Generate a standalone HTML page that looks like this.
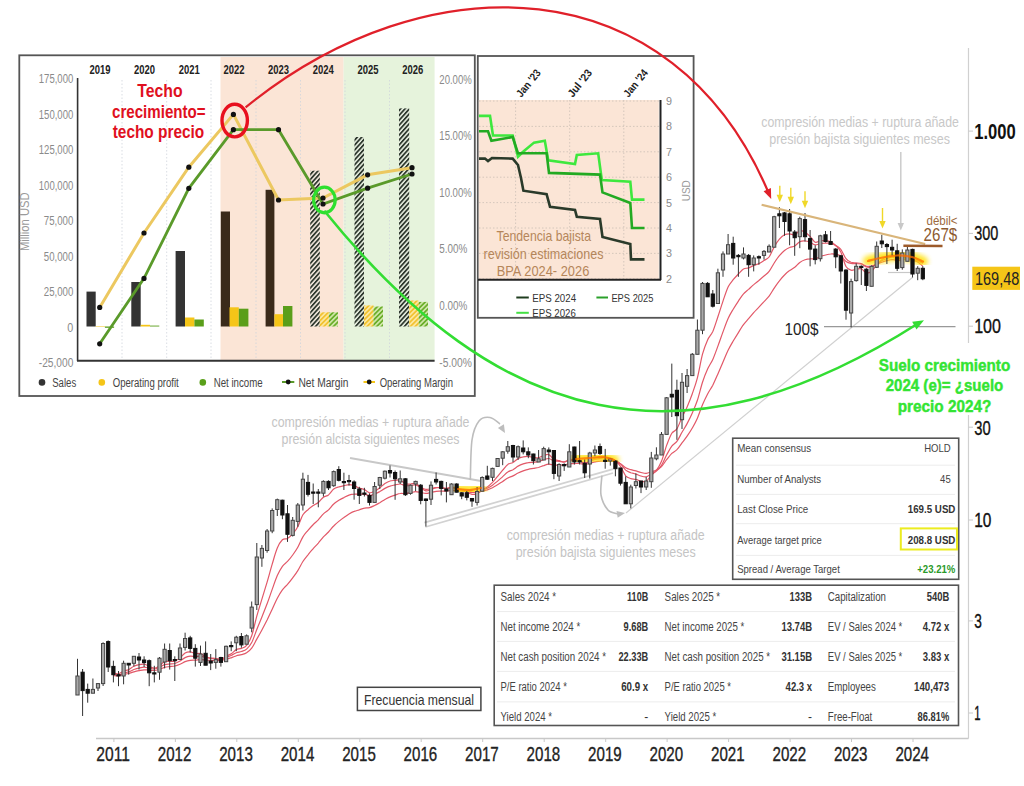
<!DOCTYPE html><html><head><meta charset="utf-8"><style>html,body{margin:0;padding:0;background:#fff;overflow:hidden}svg{display:block} text{font-family:"Liberation Sans", sans-serif}</style></head><body>
<svg width="1024" height="786" viewBox="0 0 1024 786">
<defs><filter id="glow" x="-50%" y="-50%" width="200%" height="200%"><feGaussianBlur stdDeviation="2.5"/></filter><pattern id="hatch" patternUnits="userSpaceOnUse" width="3.3" height="3.3" patternTransform="rotate(42)"><rect width="3.3" height="3.3" fill="#f4f6f0" opacity="0.5"/><rect width="1.8" height="3.3" fill="#2e382e"/></pattern><pattern id="hatchY" patternUnits="userSpaceOnUse" width="3.4" height="3.4" patternTransform="rotate(45)"><rect width="3.4" height="3.4" fill="#fbe7a0"/><rect width="1.7" height="3.4" fill="#f2c230"/></pattern><pattern id="hatchG" patternUnits="userSpaceOnUse" width="3.4" height="3.4" patternTransform="rotate(45)"><rect width="3.4" height="3.4" fill="#cfe6a8"/><rect width="1.7" height="3.4" fill="#6aae2a"/></pattern></defs>
<rect width="1024" height="786" fill="#fff"/>
<line x1="968.5" y1="48" x2="968.5" y2="738.5" stroke="#d0d0d0" stroke-width="1.2"/>
<line x1="96" y1="738.5" x2="968.5" y2="738.5" stroke="#c8c8c8" stroke-width="1.5"/>
<line x1="113.9" y1="738.5" x2="113.9" y2="742" stroke="#c8c8c8" stroke-width="1"/>
<text x="113.1" y="760.6" font-size="20.8" fill="#222" text-anchor="middle" font-weight="normal" textLength="33.6" lengthAdjust="spacingAndGlyphs" stroke="#222" stroke-width="0.35">2011</text>
<line x1="175.4" y1="738.5" x2="175.4" y2="742" stroke="#c8c8c8" stroke-width="1"/>
<text x="174.6" y="760.6" font-size="20.8" fill="#222" text-anchor="middle" font-weight="normal" textLength="33.6" lengthAdjust="spacingAndGlyphs" stroke="#222" stroke-width="0.35">2012</text>
<line x1="236.8" y1="738.5" x2="236.8" y2="742" stroke="#c8c8c8" stroke-width="1"/>
<text x="236.0" y="760.6" font-size="20.8" fill="#222" text-anchor="middle" font-weight="normal" textLength="33.6" lengthAdjust="spacingAndGlyphs" stroke="#222" stroke-width="0.35">2013</text>
<line x1="298.3" y1="738.5" x2="298.3" y2="742" stroke="#c8c8c8" stroke-width="1"/>
<text x="297.5" y="760.6" font-size="20.8" fill="#222" text-anchor="middle" font-weight="normal" textLength="33.6" lengthAdjust="spacingAndGlyphs" stroke="#222" stroke-width="0.35">2014</text>
<line x1="359.8" y1="738.5" x2="359.8" y2="742" stroke="#c8c8c8" stroke-width="1"/>
<text x="359.0" y="760.6" font-size="20.8" fill="#222" text-anchor="middle" font-weight="normal" textLength="33.6" lengthAdjust="spacingAndGlyphs" stroke="#222" stroke-width="0.35">2015</text>
<line x1="421.2" y1="738.5" x2="421.2" y2="742" stroke="#c8c8c8" stroke-width="1"/>
<text x="420.4" y="760.6" font-size="20.8" fill="#222" text-anchor="middle" font-weight="normal" textLength="33.6" lengthAdjust="spacingAndGlyphs" stroke="#222" stroke-width="0.35">2016</text>
<line x1="482.7" y1="738.5" x2="482.7" y2="742" stroke="#c8c8c8" stroke-width="1"/>
<text x="481.9" y="760.6" font-size="20.8" fill="#222" text-anchor="middle" font-weight="normal" textLength="33.6" lengthAdjust="spacingAndGlyphs" stroke="#222" stroke-width="0.35">2017</text>
<line x1="544.2" y1="738.5" x2="544.2" y2="742" stroke="#c8c8c8" stroke-width="1"/>
<text x="543.4" y="760.6" font-size="20.8" fill="#222" text-anchor="middle" font-weight="normal" textLength="33.6" lengthAdjust="spacingAndGlyphs" stroke="#222" stroke-width="0.35">2018</text>
<line x1="605.7" y1="738.5" x2="605.7" y2="742" stroke="#c8c8c8" stroke-width="1"/>
<text x="604.9" y="760.6" font-size="20.8" fill="#222" text-anchor="middle" font-weight="normal" textLength="33.6" lengthAdjust="spacingAndGlyphs" stroke="#222" stroke-width="0.35">2019</text>
<line x1="667.1" y1="738.5" x2="667.1" y2="742" stroke="#c8c8c8" stroke-width="1"/>
<text x="666.3" y="760.6" font-size="20.8" fill="#222" text-anchor="middle" font-weight="normal" textLength="33.6" lengthAdjust="spacingAndGlyphs" stroke="#222" stroke-width="0.35">2020</text>
<line x1="728.6" y1="738.5" x2="728.6" y2="742" stroke="#c8c8c8" stroke-width="1"/>
<text x="727.8" y="760.6" font-size="20.8" fill="#222" text-anchor="middle" font-weight="normal" textLength="33.6" lengthAdjust="spacingAndGlyphs" stroke="#222" stroke-width="0.35">2021</text>
<line x1="790.1" y1="738.5" x2="790.1" y2="742" stroke="#c8c8c8" stroke-width="1"/>
<text x="789.3" y="760.6" font-size="20.8" fill="#222" text-anchor="middle" font-weight="normal" textLength="33.6" lengthAdjust="spacingAndGlyphs" stroke="#222" stroke-width="0.35">2022</text>
<line x1="851.5" y1="738.5" x2="851.5" y2="742" stroke="#c8c8c8" stroke-width="1"/>
<text x="850.7" y="760.6" font-size="20.8" fill="#222" text-anchor="middle" font-weight="normal" textLength="33.6" lengthAdjust="spacingAndGlyphs" stroke="#222" stroke-width="0.35">2023</text>
<line x1="913.0" y1="738.5" x2="913.0" y2="742" stroke="#c8c8c8" stroke-width="1"/>
<text x="912.2" y="760.6" font-size="20.8" fill="#222" text-anchor="middle" font-weight="normal" textLength="33.6" lengthAdjust="spacingAndGlyphs" stroke="#222" stroke-width="0.35">2024</text>
<line x1="968.5" y1="131.1" x2="973" y2="131.1" stroke="#c8c8c8" stroke-width="1"/>
<text x="974.2" y="138.6" font-size="21.4" fill="#111" text-anchor="start" font-weight="bold" textLength="41.5" lengthAdjust="spacingAndGlyphs" >1.000</text>
<line x1="968.5" y1="233.4" x2="973" y2="233.4" stroke="#c8c8c8" stroke-width="1"/>
<text x="974.2" y="240.2" font-size="19.6" fill="#111" text-anchor="start" font-weight="normal" textLength="24.1" lengthAdjust="spacingAndGlyphs" stroke="#111" stroke-width="0.35">300</text>
<line x1="968.5" y1="326.2" x2="973" y2="326.2" stroke="#c8c8c8" stroke-width="1"/>
<text x="974.2" y="333.4" font-size="20.7" fill="#111" text-anchor="start" font-weight="normal" textLength="26.8" lengthAdjust="spacingAndGlyphs" stroke="#111" stroke-width="0.35">100</text>
<line x1="968.5" y1="427.2" x2="973" y2="427.2" stroke="#c8c8c8" stroke-width="1"/>
<text x="974.2" y="434.6" font-size="21.1" fill="#111" text-anchor="start" font-weight="normal" textLength="16.4" lengthAdjust="spacingAndGlyphs" stroke="#111" stroke-width="0.35">30</text>
<line x1="968.5" y1="520" x2="973" y2="520" stroke="#c8c8c8" stroke-width="1"/>
<text x="974.2" y="527.0" font-size="20.1" fill="#111" text-anchor="start" font-weight="normal" textLength="17.2" lengthAdjust="spacingAndGlyphs" stroke="#111" stroke-width="0.35">10</text>
<line x1="968.5" y1="620.9" x2="973" y2="620.9" stroke="#c8c8c8" stroke-width="1"/>
<text x="974.2" y="627.9" font-size="20.1" fill="#111" text-anchor="start" font-weight="normal" textLength="7.6" lengthAdjust="spacingAndGlyphs" stroke="#111" stroke-width="0.35">3</text>
<line x1="968.5" y1="713" x2="973" y2="713" stroke="#c8c8c8" stroke-width="1"/>
<text x="974.2" y="720.2" font-size="20.7" fill="#111" text-anchor="start" font-weight="normal" textLength="6.3" lengthAdjust="spacingAndGlyphs" stroke="#111" stroke-width="0.35">1</text>
<rect x="972.3" y="266.7" width="47.7" height="23.2" fill="#f5c518"/>
<text x="975" y="284.6" font-size="17.6" fill="#222" text-anchor="start" font-weight="normal" textLength="44.3" lengthAdjust="spacingAndGlyphs" >169,48</text>
<line x1="350" y1="458" x2="481" y2="481" stroke="#c8c8c8" stroke-width="2"/>
<line x1="424.3" y1="522.6" x2="613" y2="469.2" stroke="#d2d2d2" stroke-width="1.8"/>
<line x1="425.4" y1="527" x2="613" y2="473" stroke="#d2d2d2" stroke-width="1.8"/>
<line x1="626" y1="513" x2="913" y2="277" stroke="#d0d0d0" stroke-width="1.2"/>
<line x1="888" y1="272.5" x2="913" y2="272.5" stroke="#c8c8c8" stroke-width="1.2"/>
<line x1="824" y1="326.7" x2="955.5" y2="326.7" stroke="#999" stroke-width="1.3"/>
<path d="M113.4,672.9 C114.2,673.1 116.8,674.0 118.5,673.7 C120.2,673.4 121.9,671.8 123.6,671.1 C125.3,670.4 127.0,670.4 128.7,669.6 C130.4,668.8 132.1,667.1 133.9,666.3 C135.6,665.4 137.3,665.0 139.0,664.7 C140.7,664.3 142.4,663.9 144.1,664.2 C145.8,664.4 147.5,665.6 149.2,666.3 C150.9,667.0 152.6,668.3 154.3,668.2 C156.1,668.1 157.8,666.8 159.5,665.7 C161.2,664.6 162.9,662.3 164.6,661.6 C166.3,660.9 168.0,661.5 169.7,661.4 C171.4,661.3 173.1,661.8 174.8,661.2 C176.5,660.6 178.3,659.3 180.0,657.9 C181.7,656.6 183.4,654.1 185.1,653.1 C186.8,652.1 188.5,651.8 190.2,651.9 C191.9,652.0 193.6,653.2 195.3,653.5 C197.0,653.8 198.7,653.1 200.5,653.6 C202.2,654.1 203.9,655.7 205.6,656.5 C207.3,657.3 209.0,657.8 210.7,658.1 C212.4,658.5 214.1,658.3 215.8,658.5 C217.5,658.7 219.2,659.9 220.9,659.5 C222.7,659.1 224.4,657.1 226.1,656.2 C227.8,655.2 229.5,654.9 231.2,653.8 C232.9,652.7 234.6,650.5 236.3,649.6 C238.0,648.7 239.7,649.2 241.4,648.4 C243.1,647.7 244.9,647.4 246.6,645.3 C248.3,643.2 250.0,640.6 251.7,635.7 C253.4,630.9 255.1,622.2 256.8,616.1 C258.5,610.0 260.2,604.8 261.9,599.1 C263.6,593.5 265.3,587.9 267.1,582.1 C268.8,576.3 270.5,569.9 272.2,564.2 C273.9,558.5 275.6,552.1 277.3,548.1 C279.0,544.0 280.7,541.4 282.4,539.8 C284.1,538.2 285.8,539.4 287.5,538.4 C289.3,537.4 291.0,535.9 292.7,533.9 C294.4,531.9 296.1,529.9 297.8,526.7 C299.5,523.5 301.2,517.6 302.9,514.8 C304.6,512.0 306.3,511.2 308.0,509.7 C309.7,508.1 311.5,506.8 313.2,505.6 C314.9,504.4 316.6,503.9 318.3,502.5 C320.0,501.1 321.7,498.5 323.4,497.2 C325.1,495.9 326.8,496.2 328.5,494.9 C330.2,493.5 331.9,490.4 333.7,489.0 C335.4,487.7 337.1,487.4 338.8,486.9 C340.5,486.3 342.2,486.1 343.9,485.7 C345.6,485.4 347.3,484.7 349.0,484.7 C350.7,484.7 352.4,485.1 354.1,485.6 C355.8,486.2 357.6,487.4 359.3,488.1 C361.0,488.7 362.7,488.8 364.4,489.6 C366.1,490.3 367.8,492.5 369.5,492.8 C371.2,493.0 372.9,492.0 374.6,491.2 C376.3,490.4 378.0,489.0 379.8,487.8 C381.5,486.5 383.2,484.8 384.9,483.6 C386.6,482.5 388.3,481.5 390.0,481.0 C391.7,480.4 393.4,480.6 395.1,480.4 C396.8,480.3 398.5,479.5 400.2,480.0 C402.0,480.6 403.7,483.0 405.4,483.7 C407.1,484.4 408.8,484.1 410.5,484.1 C412.2,484.0 413.9,482.8 415.6,483.4 C417.3,484.0 419.0,486.4 420.7,487.7 C422.4,488.9 424.2,490.6 425.9,490.9 C427.6,491.2 429.3,490.0 431.0,489.4 C432.7,488.9 434.4,487.9 436.1,487.6 C437.8,487.3 439.5,487.6 441.2,487.8 C442.9,488.0 444.6,488.6 446.4,488.6 C448.1,488.5 449.8,487.4 451.5,487.4 C453.2,487.5 454.9,488.1 456.6,488.6 C458.3,489.1 460.0,489.9 461.7,490.5 C463.4,491.1 465.1,491.5 466.8,492.2 C468.6,492.8 470.3,494.1 472.0,494.4 C473.7,494.6 475.4,494.5 477.1,493.7 C478.8,492.9 480.5,490.7 482.2,489.6 C483.9,488.5 485.6,488.2 487.3,487.0 C489.0,485.8 490.8,484.1 492.5,482.4 C494.2,480.6 495.9,478.4 497.6,476.4 C499.3,474.4 501.0,472.3 502.7,470.2 C504.4,468.2 506.1,465.6 507.8,464.4 C509.5,463.1 511.2,463.5 513.0,462.5 C514.7,461.6 516.4,459.5 518.1,458.6 C519.8,457.6 521.5,457.2 523.2,456.9 C524.9,456.5 526.6,456.3 528.3,456.4 C530.0,456.5 531.7,457.2 533.4,457.5 C535.2,457.7 536.9,458.1 538.6,457.8 C540.3,457.5 542.0,456.0 543.7,455.5 C545.4,455.0 547.1,454.0 548.8,454.6 C550.5,455.2 552.2,458.3 553.9,459.3 C555.6,460.3 557.4,460.2 559.1,460.6 C560.8,461.0 562.5,462.1 564.2,461.9 C565.9,461.7 567.6,459.7 569.3,459.4 C571.0,459.1 572.7,459.8 574.4,460.0 C576.1,460.2 577.8,459.9 579.6,460.5 C581.3,461.1 583.0,463.5 584.7,463.6 C586.4,463.7 588.1,461.8 589.8,460.9 C591.5,460.0 593.2,458.9 594.9,458.2 C596.6,457.6 598.3,457.0 600.0,457.0 C601.8,457.0 603.5,457.8 605.2,458.0 C606.9,458.2 608.6,457.7 610.3,458.2 C612.0,458.7 613.7,459.5 615.4,460.8 C617.1,462.2 618.8,463.9 620.5,466.4 C622.2,468.9 624.0,473.7 625.7,475.8 C627.4,477.8 629.1,478.0 630.8,478.6 C632.5,479.2 634.2,478.9 635.9,479.4 C637.6,479.8 639.3,481.0 641.0,481.3 C642.7,481.6 644.4,482.2 646.2,481.2 C647.9,480.2 649.6,477.2 651.3,475.4 C653.0,473.6 654.7,472.6 656.4,470.3 C658.1,468.0 659.8,465.5 661.5,461.3 C663.2,457.2 664.9,450.1 666.6,445.4 C668.4,440.8 670.1,436.1 671.8,433.3 C673.5,430.6 675.2,431.6 676.9,428.9 C678.6,426.2 680.3,420.9 682.0,417.3 C683.7,413.6 685.4,410.8 687.1,406.9 C688.8,402.9 690.6,398.5 692.3,393.7 C694.0,388.9 695.7,384.4 697.4,377.8 C699.1,371.3 700.8,360.6 702.5,354.2 C704.2,347.9 705.9,343.7 707.6,339.9 C709.3,336.1 711.0,335.3 712.8,331.5 C714.5,327.6 716.2,321.8 717.9,316.8 C719.6,311.7 721.3,306.1 723.0,301.1 C724.7,296.1 726.4,290.6 728.1,287.0 C729.8,283.4 731.5,281.9 733.2,279.7 C735.0,277.6 736.7,275.8 738.4,274.0 C740.1,272.2 741.8,270.0 743.5,269.0 C745.2,268.0 746.9,268.5 748.6,267.9 C750.3,267.3 752.0,266.2 753.7,265.4 C755.4,264.7 757.2,264.4 758.9,263.6 C760.6,262.8 762.3,261.6 764.0,260.5 C765.7,259.4 767.4,259.2 769.1,257.0 C770.8,254.7 772.5,249.9 774.2,246.9 C775.9,243.9 777.6,241.2 779.4,239.1 C781.1,237.1 782.8,235.6 784.5,234.7 C786.2,233.8 787.9,233.8 789.6,233.8 C791.3,233.8 793.0,235.3 794.7,234.8 C796.4,234.3 798.1,231.2 799.8,230.7 C801.6,230.3 803.3,231.3 805.0,232.2 C806.7,233.2 808.4,234.8 810.1,236.4 C811.8,238.1 813.5,241.5 815.2,242.2 C816.9,242.9 818.6,240.9 820.3,240.6 C822.0,240.4 823.8,240.7 825.5,240.8 C827.2,241.0 828.9,241.0 830.6,241.7 C832.3,242.5 834.0,243.8 835.7,245.5 C837.4,247.2 839.1,248.4 840.8,251.9 C842.5,255.4 844.2,263.4 846.0,266.5 C847.7,269.5 849.4,269.8 851.1,270.2 C852.8,270.7 854.5,269.5 856.2,269.3 C857.9,269.0 859.6,268.2 861.3,268.8 C863.0,269.4 864.7,272.5 866.4,272.9 C868.1,273.3 869.9,272.6 871.6,271.3 C873.3,270.0 875.0,267.0 876.7,265.0 C878.4,263.1 880.1,261.2 881.8,259.7 C883.5,258.3 885.2,257.3 886.9,256.4 C888.6,255.6 890.3,254.5 892.1,254.8 C893.8,255.1 895.5,257.9 897.2,258.2 C898.9,258.5 900.6,257.4 902.3,256.9 C904.0,256.4 905.7,254.7 907.4,255.2 C909.1,255.7 910.8,258.7 912.5,259.9 C914.3,261.0 916.0,260.9 917.7,262.0 C919.4,263.0 921.9,265.5 922.8,266.2" fill="none" stroke="#e25868" stroke-width="1.2"/>
<path d="M113.4,674.8 C114.2,674.8 116.8,675.2 118.5,675.0 C120.2,674.7 121.9,673.7 123.6,673.2 C125.3,672.7 127.0,672.5 128.7,671.9 C130.4,671.3 132.1,670.2 133.9,669.5 C135.6,668.9 137.3,668.4 139.0,668.1 C140.7,667.7 142.4,667.2 144.1,667.2 C145.8,667.2 147.5,667.8 149.2,668.1 C150.9,668.4 152.6,669.1 154.3,669.0 C156.1,668.9 157.8,668.1 159.5,667.3 C161.2,666.6 162.9,665.1 164.6,664.6 C166.3,664.0 168.0,664.1 169.7,664.0 C171.4,663.8 173.1,663.9 174.8,663.5 C176.5,663.0 178.3,662.1 180.0,661.1 C181.7,660.1 183.4,658.4 185.1,657.6 C186.8,656.8 188.5,656.4 190.2,656.2 C191.9,656.0 193.6,656.5 195.3,656.5 C197.0,656.5 198.7,655.9 200.5,656.1 C202.2,656.3 203.9,657.1 205.6,657.5 C207.3,657.9 209.0,658.2 210.7,658.4 C212.4,658.5 214.1,658.4 215.8,658.5 C217.5,658.7 219.2,659.4 220.9,659.1 C222.7,658.9 224.4,657.8 226.1,657.2 C227.8,656.6 229.5,656.3 231.2,655.5 C232.9,654.8 234.6,653.4 236.3,652.7 C238.0,652.0 239.7,652.1 241.4,651.5 C243.1,650.9 244.9,650.6 246.6,649.1 C248.3,647.6 250.0,645.9 251.7,642.6 C253.4,639.4 255.1,633.7 256.8,629.5 C258.5,625.2 260.2,621.3 261.9,617.0 C263.6,612.7 265.3,608.4 267.1,603.8 C268.8,599.2 270.5,594.1 272.2,589.4 C273.9,584.7 275.6,579.5 277.3,575.6 C279.0,571.8 280.7,568.7 282.4,566.3 C284.1,563.9 285.8,563.2 287.5,561.4 C289.3,559.5 291.0,557.4 292.7,555.0 C294.4,552.7 296.1,550.4 297.8,547.3 C299.5,544.3 301.2,539.7 302.9,536.9 C304.6,534.0 306.3,532.4 308.0,530.3 C309.7,528.3 311.5,526.4 313.2,524.6 C314.9,522.8 316.6,521.6 318.3,519.8 C320.0,518.0 321.7,515.5 323.4,513.9 C325.1,512.2 326.8,511.5 328.5,509.9 C330.2,508.2 331.9,505.6 333.7,504.0 C335.4,502.4 337.1,501.4 338.8,500.3 C340.5,499.3 342.2,498.4 343.9,497.6 C345.6,496.7 347.3,495.7 349.0,495.1 C350.7,494.5 352.4,494.2 354.1,494.1 C355.8,493.9 357.6,494.3 359.3,494.3 C361.0,494.3 362.7,494.0 364.4,494.2 C366.1,494.4 367.8,495.5 369.5,495.5 C371.2,495.5 372.9,494.8 374.6,494.1 C376.3,493.5 378.0,492.5 379.8,491.6 C381.5,490.6 383.2,489.3 384.9,488.4 C386.6,487.5 388.3,486.6 390.0,486.1 C391.7,485.5 393.4,485.3 395.1,484.9 C396.8,484.6 398.5,483.9 400.2,484.0 C402.0,484.1 403.7,485.4 405.4,485.6 C407.1,485.9 408.8,485.7 410.5,485.6 C412.2,485.5 413.9,484.6 415.6,484.9 C417.3,485.2 419.0,486.6 420.7,487.3 C422.4,488.0 424.2,489.1 425.9,489.3 C427.6,489.6 429.3,489.0 431.0,488.7 C432.7,488.4 434.4,487.8 436.1,487.7 C437.8,487.5 439.5,487.7 441.2,487.8 C442.9,487.9 444.6,488.3 446.4,488.3 C448.1,488.3 449.8,487.6 451.5,487.6 C453.2,487.6 454.9,488.0 456.6,488.3 C458.3,488.6 460.0,489.1 461.7,489.5 C463.4,489.9 465.1,490.2 466.8,490.7 C468.6,491.2 470.3,492.0 472.0,492.3 C473.7,492.5 475.4,492.6 477.1,492.2 C478.8,491.8 480.5,490.6 482.2,489.9 C483.9,489.3 485.6,489.0 487.3,488.3 C489.0,487.5 490.8,486.4 492.5,485.2 C494.2,484.0 495.9,482.5 497.6,481.1 C499.3,479.7 501.0,478.1 502.7,476.6 C504.4,475.1 506.1,473.1 507.8,472.0 C509.5,470.8 511.2,470.7 513.0,469.7 C514.7,468.7 516.4,467.1 518.1,466.1 C519.8,465.2 521.5,464.5 523.2,463.9 C524.9,463.3 526.6,462.8 528.3,462.6 C530.0,462.3 531.7,462.4 533.4,462.3 C535.2,462.1 536.9,462.2 538.6,461.7 C540.3,461.3 542.0,460.3 543.7,459.7 C545.4,459.2 547.1,458.3 548.8,458.5 C550.5,458.7 552.2,460.3 553.9,460.8 C555.6,461.3 557.4,461.2 559.1,461.4 C560.8,461.6 562.5,462.2 564.2,462.0 C565.9,461.9 567.6,460.7 569.3,460.5 C571.0,460.2 572.7,460.6 574.4,460.7 C576.1,460.8 577.8,460.6 579.6,460.9 C581.3,461.2 583.0,462.7 584.7,462.7 C586.4,462.8 588.1,461.8 589.8,461.2 C591.5,460.7 593.2,460.0 594.9,459.5 C596.6,459.1 598.3,458.7 600.0,458.6 C601.8,458.5 603.5,458.9 605.2,458.9 C606.9,459.0 608.6,458.7 610.3,458.9 C612.0,459.2 613.7,459.6 615.4,460.4 C617.1,461.3 618.8,462.3 620.5,463.9 C622.2,465.5 624.0,468.6 625.7,470.1 C627.4,471.5 629.1,472.0 630.8,472.7 C632.5,473.3 634.2,473.5 635.9,474.1 C637.6,474.6 639.3,475.6 641.0,476.0 C642.7,476.5 644.4,477.2 646.2,476.8 C647.9,476.5 649.6,474.9 651.3,473.9 C653.0,472.9 654.7,472.4 656.4,471.0 C658.1,469.6 659.8,468.0 661.5,465.4 C663.2,462.7 664.9,458.2 666.6,455.0 C668.4,451.8 670.1,448.3 671.8,446.1 C673.5,443.8 675.2,443.7 676.9,441.4 C678.6,439.1 680.3,435.3 682.0,432.3 C683.7,429.3 685.4,426.8 687.1,423.6 C688.8,420.3 690.6,416.8 692.3,412.9 C694.0,409.0 695.7,405.3 697.4,400.2 C699.1,395.1 700.8,387.4 702.5,382.2 C704.2,377.0 705.9,372.9 707.6,369.1 C709.3,365.3 711.0,363.2 712.8,359.4 C714.5,355.6 716.2,350.7 717.9,346.1 C719.6,341.5 721.3,336.5 723.0,331.9 C724.7,327.3 726.4,322.3 728.1,318.5 C729.8,314.7 731.5,312.1 733.2,309.2 C735.0,306.3 736.7,303.7 738.4,301.1 C740.1,298.6 741.8,295.8 743.5,293.9 C745.2,291.9 746.9,290.9 748.6,289.4 C750.3,287.8 752.0,286.0 753.7,284.6 C755.4,283.1 757.2,281.9 758.9,280.5 C760.6,279.0 762.3,277.5 764.0,276.0 C765.7,274.5 767.4,273.6 769.1,271.4 C770.8,269.3 772.5,265.6 774.2,263.0 C775.9,260.4 777.6,257.8 779.4,255.7 C781.1,253.7 782.8,251.9 784.5,250.5 C786.2,249.1 787.9,248.2 789.6,247.5 C791.3,246.7 793.0,246.9 794.7,246.0 C796.4,245.0 798.1,242.6 799.8,241.8 C801.6,240.9 803.3,240.9 805.0,241.0 C806.7,241.1 808.4,241.6 810.1,242.2 C811.8,242.9 813.5,244.7 815.2,244.9 C816.9,245.1 818.6,243.8 820.3,243.5 C822.0,243.2 823.8,243.2 825.5,243.2 C827.2,243.2 828.9,243.0 830.6,243.4 C832.3,243.8 834.0,244.4 835.7,245.4 C837.4,246.4 839.1,247.2 840.8,249.4 C842.5,251.6 844.2,256.6 846.0,258.7 C847.7,260.9 849.4,261.6 851.1,262.3 C852.8,262.9 854.5,262.7 856.2,262.9 C857.9,263.1 859.6,262.9 861.3,263.6 C863.0,264.2 864.7,266.4 866.4,266.9 C868.1,267.5 869.9,267.4 871.6,266.8 C873.3,266.3 875.0,264.7 876.7,263.7 C878.4,262.6 880.1,261.5 881.8,260.6 C883.5,259.7 885.2,259.0 886.9,258.5 C888.6,257.9 890.3,257.1 892.1,257.2 C893.8,257.2 895.5,258.7 897.2,258.9 C898.9,259.0 900.6,258.3 902.3,258.0 C904.0,257.6 905.7,256.5 907.4,256.7 C909.1,257.0 910.8,258.7 912.5,259.4 C914.3,260.1 916.0,260.1 917.7,260.8 C919.4,261.5 921.9,263.1 922.8,263.5" fill="none" stroke="#e25868" stroke-width="1.2"/>
<path d="M113.4,675.7 C114.2,675.7 116.8,675.9 118.5,675.7 C120.2,675.5 121.9,674.8 123.6,674.4 C125.3,674.1 127.0,673.9 128.7,673.5 C130.4,673.1 132.1,672.3 133.9,671.8 C135.6,671.3 137.3,670.9 139.0,670.6 C140.7,670.3 142.4,669.9 144.1,669.8 C145.8,669.7 147.5,670.0 149.2,670.1 C150.9,670.2 152.6,670.6 154.3,670.5 C156.1,670.4 157.8,669.8 159.5,669.3 C161.2,668.7 162.9,667.7 164.6,667.3 C166.3,666.8 168.0,666.8 169.7,666.6 C171.4,666.4 173.1,666.4 174.8,666.0 C176.5,665.6 178.3,664.9 180.0,664.2 C181.7,663.5 183.4,662.3 185.1,661.6 C186.8,661.0 188.5,660.6 190.2,660.3 C191.9,660.1 193.6,660.2 195.3,660.1 C197.0,660.0 198.7,659.5 200.5,659.5 C202.2,659.5 203.9,659.9 205.6,660.1 C207.3,660.2 209.0,660.3 210.7,660.4 C212.4,660.4 214.1,660.3 215.8,660.3 C217.5,660.3 219.2,660.7 220.9,660.5 C222.7,660.3 224.4,659.5 226.1,659.1 C227.8,658.6 229.5,658.4 231.2,657.8 C232.9,657.3 234.6,656.3 236.3,655.8 C238.0,655.2 239.7,655.2 241.4,654.7 C243.1,654.2 244.9,653.9 246.6,652.8 C248.3,651.7 250.0,650.5 251.7,648.2 C253.4,645.9 255.1,642.1 256.8,639.1 C258.5,636.1 260.2,633.2 261.9,630.0 C263.6,626.9 265.3,623.6 267.1,620.1 C268.8,616.6 270.5,612.8 272.2,609.2 C273.9,605.5 275.6,601.4 277.3,598.2 C279.0,595.0 280.7,592.2 282.4,589.9 C284.1,587.6 285.8,586.3 287.5,584.3 C289.3,582.3 291.0,580.2 292.7,577.9 C294.4,575.6 296.1,573.4 297.8,570.6 C299.5,567.9 301.2,564.1 302.9,561.5 C304.6,558.8 306.3,556.9 308.0,554.8 C309.7,552.6 311.5,550.6 313.2,548.6 C314.9,546.7 316.6,545.0 318.3,543.1 C320.0,541.1 321.7,538.8 323.4,536.9 C325.1,535.1 326.8,533.8 328.5,532.0 C330.2,530.2 331.9,527.7 333.7,526.0 C335.4,524.2 337.1,522.8 338.8,521.4 C340.5,520.0 342.2,518.7 343.9,517.5 C345.6,516.2 347.3,514.9 349.0,513.9 C350.7,512.9 352.4,512.0 354.1,511.4 C355.8,510.7 357.6,510.3 359.3,509.8 C361.0,509.2 362.7,508.5 364.4,508.2 C366.1,507.8 367.8,508.1 369.5,507.6 C371.2,507.2 372.9,506.3 374.6,505.5 C376.3,504.7 378.0,503.7 379.8,502.7 C381.5,501.7 383.2,500.5 384.9,499.5 C386.6,498.6 388.3,497.6 390.0,496.9 C391.7,496.1 393.4,495.7 395.1,495.1 C396.8,494.5 398.5,493.7 400.2,493.5 C402.0,493.2 403.7,493.7 405.4,493.6 C407.1,493.5 408.8,493.1 410.5,492.7 C412.2,492.4 413.9,491.6 415.6,491.6 C417.3,491.6 419.0,492.2 420.7,492.5 C422.4,492.8 424.2,493.3 425.9,493.3 C427.6,493.3 429.3,492.8 431.0,492.5 C432.7,492.2 434.4,491.7 436.1,491.4 C437.8,491.2 439.5,491.2 441.2,491.1 C442.9,491.1 444.6,491.2 446.4,491.1 C448.1,491.0 449.8,490.5 451.5,490.4 C453.2,490.3 454.9,490.5 456.6,490.6 C458.3,490.7 460.0,490.9 461.7,491.1 C463.4,491.3 465.1,491.5 466.8,491.7 C468.6,492.0 470.3,492.5 472.0,492.7 C473.7,492.8 475.4,492.8 477.1,492.6 C478.8,492.3 480.5,491.5 482.2,491.0 C483.9,490.6 485.6,490.4 487.3,489.9 C489.0,489.3 490.8,488.6 492.5,487.7 C494.2,486.9 495.9,485.8 497.6,484.8 C499.3,483.8 501.0,482.6 502.7,481.5 C504.4,480.4 506.1,478.9 507.8,478.0 C509.5,477.1 511.2,476.8 513.0,475.9 C514.7,475.1 516.4,473.8 518.1,473.0 C519.8,472.2 521.5,471.5 523.2,470.9 C524.9,470.3 526.6,469.7 528.3,469.3 C530.0,468.9 531.7,468.7 533.4,468.4 C535.2,468.1 536.9,467.9 538.6,467.5 C540.3,467.0 542.0,466.1 543.7,465.6 C545.4,465.0 547.1,464.3 548.8,464.2 C550.5,464.1 552.2,465.0 553.9,465.1 C555.6,465.3 557.4,465.1 559.1,465.1 C560.8,465.1 562.5,465.3 564.2,465.1 C565.9,464.9 567.6,464.1 569.3,463.8 C571.0,463.5 572.7,463.7 574.4,463.6 C576.1,463.6 577.8,463.3 579.6,463.5 C581.3,463.6 583.0,464.4 584.7,464.4 C586.4,464.4 588.1,463.7 589.8,463.3 C591.5,462.8 593.2,462.3 594.9,461.9 C596.6,461.6 598.3,461.2 600.0,461.1 C601.8,460.9 603.5,461.1 605.2,461.1 C606.9,461.0 608.6,460.7 610.3,460.8 C612.0,460.9 613.7,461.1 615.4,461.6 C617.1,462.1 618.8,462.8 620.5,463.8 C622.2,464.8 624.0,466.8 625.7,467.8 C627.4,468.8 629.1,469.2 630.8,469.7 C632.5,470.2 634.2,470.4 635.9,470.9 C637.6,471.4 639.3,472.1 641.0,472.5 C642.7,472.9 644.4,473.5 646.2,473.4 C647.9,473.2 649.6,472.4 651.3,471.8 C653.0,471.3 654.7,471.0 656.4,470.1 C658.1,469.3 659.8,468.3 661.5,466.6 C663.2,464.8 664.9,461.9 666.6,459.7 C668.4,457.5 670.1,455.1 671.8,453.4 C673.5,451.8 675.2,451.4 676.9,449.7 C678.6,447.9 680.3,445.2 682.0,442.9 C683.7,440.7 685.4,438.7 687.1,436.2 C688.8,433.7 690.6,431.0 692.3,428.0 C694.0,425.0 695.7,422.1 697.4,418.2 C699.1,414.3 700.8,408.8 702.5,404.7 C704.2,400.7 705.9,397.2 707.6,393.9 C709.3,390.7 711.0,388.5 712.8,385.2 C714.5,381.8 716.2,377.8 717.9,373.9 C719.6,370.1 721.3,365.9 723.0,361.9 C724.7,358.0 726.4,353.7 728.1,350.2 C729.8,346.7 731.5,343.9 733.2,341.0 C735.0,338.1 736.7,335.3 738.4,332.6 C740.1,329.8 741.8,327.0 743.5,324.7 C745.2,322.4 746.9,320.7 748.6,318.7 C750.3,316.7 752.0,314.6 753.7,312.6 C755.4,310.7 757.2,309.0 758.9,307.2 C760.6,305.3 762.3,303.4 764.0,301.6 C765.7,299.7 767.4,298.3 769.1,296.1 C770.8,293.8 772.5,290.7 774.2,288.1 C775.9,285.6 777.6,283.1 779.4,280.9 C781.1,278.7 782.8,276.7 784.5,275.0 C786.2,273.2 787.9,271.8 789.6,270.6 C791.3,269.3 793.0,268.6 794.7,267.3 C796.4,265.9 798.1,263.6 799.8,262.4 C801.6,261.2 803.3,260.4 805.0,259.8 C806.7,259.2 808.4,258.9 810.1,258.8 C811.8,258.6 813.5,259.2 815.2,258.8 C816.9,258.5 818.6,257.2 820.3,256.5 C822.0,255.9 823.8,255.5 825.5,255.0 C827.2,254.6 828.9,254.1 830.6,254.0 C832.3,253.8 834.0,253.9 835.7,254.3 C837.4,254.6 839.1,254.7 840.8,255.9 C842.5,257.1 844.2,260.1 846.0,261.4 C847.7,262.6 849.4,263.0 851.1,263.4 C852.8,263.8 854.5,263.6 856.2,263.7 C857.9,263.8 859.6,263.6 861.3,264.0 C863.0,264.5 864.7,265.8 866.4,266.2 C868.1,266.5 869.9,266.5 871.6,266.2 C873.3,265.9 875.0,264.9 876.7,264.2 C878.4,263.5 880.1,262.8 881.8,262.2 C883.5,261.6 885.2,261.0 886.9,260.6 C888.6,260.2 890.3,259.6 892.1,259.5 C893.8,259.5 895.5,260.4 897.2,260.4 C898.9,260.4 900.6,260.0 902.3,259.7 C904.0,259.4 905.7,258.6 907.4,258.7 C909.1,258.8 910.8,259.8 912.5,260.2 C914.3,260.6 916.0,260.6 917.7,261.0 C919.4,261.5 921.9,262.5 922.8,262.8" fill="none" stroke="#e25868" stroke-width="1.2"/>
<path d="M458.0,489.0 C460.0,489.2 466.2,490.2 470.0,490.0 C473.8,489.8 479.2,488.3 481.0,488.0" fill="none" stroke="#ffe000" stroke-width="10" stroke-linecap="round" filter="url(#glow)" opacity="0.85"/>
<path d="M576.0,459.0 C578.3,458.8 585.3,458.3 590.0,458.0 C594.7,457.7 600.0,456.7 604.0,457.0 C608.0,457.3 612.3,459.5 614.0,460.0" fill="none" stroke="#ffe000" stroke-width="10" stroke-linecap="round" filter="url(#glow)" opacity="0.85"/>
<path d="M868.0,261.0 C870.0,260.5 875.2,258.9 880.0,258.0 C884.8,257.1 891.7,255.7 897.0,255.5 C902.3,255.3 907.7,256.0 912.0,257.0 C916.3,258.0 921.2,260.8 923.0,261.5" fill="none" stroke="#ffe000" stroke-width="10" stroke-linecap="round" filter="url(#glow)" opacity="0.85"/>
<line x1="77.5" y1="658.8" x2="77.5" y2="695.0" stroke="#333" stroke-width="1"/>
<rect x="75.9" y="676.0" width="3.2" height="19.0" fill="#aaa" stroke="#444" stroke-width="1"/>
<line x1="82.6" y1="669.0" x2="82.6" y2="716.0" stroke="#333" stroke-width="1"/>
<rect x="81.0" y="672.2" width="3.2" height="18.4" fill="#111" stroke="#111" stroke-width="1"/>
<line x1="87.7" y1="683.6" x2="87.7" y2="702.7" stroke="#333" stroke-width="1"/>
<rect x="86.1" y="689.4" width="3.2" height="3.8" fill="#111" stroke="#111" stroke-width="1"/>
<line x1="92.9" y1="678.5" x2="92.9" y2="693.2" stroke="#333" stroke-width="1"/>
<rect x="91.3" y="689.4" width="3.2" height="3.8" fill="#aaa" stroke="#444" stroke-width="1"/>
<line x1="98.0" y1="683.0" x2="98.0" y2="691.0" stroke="#333" stroke-width="1"/>
<rect x="96.4" y="683.6" width="3.2" height="4.4" fill="#aaa" stroke="#444" stroke-width="1"/>
<line x1="103.1" y1="642.3" x2="103.1" y2="686.0" stroke="#333" stroke-width="1"/>
<rect x="101.5" y="643.5" width="3.2" height="40.1" fill="#aaa" stroke="#444" stroke-width="1"/>
<line x1="108.2" y1="640.4" x2="108.2" y2="672.0" stroke="#333" stroke-width="1"/>
<rect x="106.6" y="641.6" width="3.2" height="25.4" fill="#111" stroke="#111" stroke-width="1"/>
<line x1="113.4" y1="660.7" x2="113.4" y2="682.4" stroke="#333" stroke-width="1"/>
<rect x="111.8" y="666.4" width="3.2" height="8.3" fill="#111" stroke="#111" stroke-width="1"/>
<line x1="118.5" y1="671.0" x2="118.5" y2="686.2" stroke="#333" stroke-width="1"/>
<rect x="116.9" y="674.7" width="3.2" height="1.3" fill="#111" stroke="#111" stroke-width="1"/>
<line x1="123.6" y1="660.7" x2="123.6" y2="684.3" stroke="#333" stroke-width="1"/>
<rect x="122.0" y="663.3" width="3.2" height="12.7" fill="#aaa" stroke="#444" stroke-width="1"/>
<line x1="128.7" y1="663.3" x2="128.7" y2="674.7" stroke="#333" stroke-width="1"/>
<rect x="127.1" y="663.3" width="3.2" height="1.7" fill="#111" stroke="#111" stroke-width="1"/>
<line x1="133.9" y1="656.3" x2="133.9" y2="666.4" stroke="#333" stroke-width="1"/>
<rect x="132.3" y="656.3" width="3.2" height="7.0" fill="#aaa" stroke="#444" stroke-width="1"/>
<line x1="139.0" y1="653.0" x2="139.0" y2="669.6" stroke="#333" stroke-width="1"/>
<rect x="137.4" y="657.0" width="3.2" height="3.0" fill="#111" stroke="#111" stroke-width="1"/>
<line x1="144.1" y1="656.3" x2="144.1" y2="667.0" stroke="#333" stroke-width="1"/>
<rect x="142.5" y="660.0" width="3.2" height="2.6" fill="#111" stroke="#111" stroke-width="1"/>
<line x1="149.2" y1="659.5" x2="149.2" y2="686.2" stroke="#333" stroke-width="1"/>
<rect x="147.6" y="660.7" width="3.2" height="12.1" fill="#111" stroke="#111" stroke-width="1"/>
<line x1="154.3" y1="665.8" x2="154.3" y2="682.4" stroke="#333" stroke-width="1"/>
<rect x="152.7" y="672.8" width="3.2" height="1.2" fill="#111" stroke="#111" stroke-width="1"/>
<line x1="159.5" y1="657.0" x2="159.5" y2="679.8" stroke="#333" stroke-width="1"/>
<rect x="157.9" y="658.2" width="3.2" height="14.0" fill="#aaa" stroke="#444" stroke-width="1"/>
<line x1="164.6" y1="643.5" x2="164.6" y2="668.4" stroke="#333" stroke-width="1"/>
<rect x="163.0" y="649.3" width="3.2" height="12.7" fill="#aaa" stroke="#444" stroke-width="1"/>
<line x1="169.7" y1="643.5" x2="169.7" y2="669.6" stroke="#333" stroke-width="1"/>
<rect x="168.1" y="650.5" width="3.2" height="10.2" fill="#111" stroke="#111" stroke-width="1"/>
<line x1="174.8" y1="656.3" x2="174.8" y2="681.0" stroke="#333" stroke-width="1"/>
<rect x="173.2" y="659.5" width="3.2" height="1.2" fill="#111" stroke="#111" stroke-width="1"/>
<line x1="180.0" y1="643.5" x2="180.0" y2="659.5" stroke="#333" stroke-width="1"/>
<rect x="178.4" y="648.0" width="3.2" height="11.5" fill="#aaa" stroke="#444" stroke-width="1"/>
<line x1="185.1" y1="632.7" x2="185.1" y2="650.5" stroke="#333" stroke-width="1"/>
<rect x="183.5" y="638.5" width="3.2" height="8.9" fill="#aaa" stroke="#444" stroke-width="1"/>
<line x1="190.2" y1="635.8" x2="190.2" y2="652.6" stroke="#333" stroke-width="1"/>
<rect x="188.6" y="637.9" width="3.2" height="10.5" fill="#111" stroke="#111" stroke-width="1"/>
<line x1="195.3" y1="644.2" x2="195.3" y2="666.6" stroke="#333" stroke-width="1"/>
<rect x="193.7" y="648.4" width="3.2" height="9.8" fill="#111" stroke="#111" stroke-width="1"/>
<line x1="200.5" y1="645.6" x2="200.5" y2="666.0" stroke="#333" stroke-width="1"/>
<rect x="198.9" y="654.0" width="3.2" height="8.4" fill="#aaa" stroke="#444" stroke-width="1"/>
<line x1="205.6" y1="641.4" x2="205.6" y2="665.2" stroke="#333" stroke-width="1"/>
<rect x="204.0" y="653.3" width="3.2" height="11.9" fill="#111" stroke="#111" stroke-width="1"/>
<line x1="210.7" y1="654.0" x2="210.7" y2="670.1" stroke="#333" stroke-width="1"/>
<rect x="209.1" y="661.0" width="3.2" height="2.0" fill="#111" stroke="#111" stroke-width="1"/>
<line x1="215.8" y1="649.1" x2="215.8" y2="668.7" stroke="#333" stroke-width="1"/>
<rect x="214.2" y="659.6" width="3.2" height="2.8" fill="#aaa" stroke="#444" stroke-width="1"/>
<line x1="220.9" y1="656.8" x2="220.9" y2="666.6" stroke="#333" stroke-width="1"/>
<rect x="219.3" y="657.5" width="3.2" height="4.9" fill="#111" stroke="#111" stroke-width="1"/>
<line x1="226.1" y1="645.6" x2="226.1" y2="661.7" stroke="#333" stroke-width="1"/>
<rect x="224.5" y="646.3" width="3.2" height="15.4" fill="#aaa" stroke="#444" stroke-width="1"/>
<line x1="231.2" y1="641.4" x2="231.2" y2="651.2" stroke="#333" stroke-width="1"/>
<rect x="229.6" y="645.5" width="3.2" height="1.2" fill="#111" stroke="#111" stroke-width="1"/>
<line x1="236.3" y1="635.8" x2="236.3" y2="651.2" stroke="#333" stroke-width="1"/>
<rect x="234.7" y="637.2" width="3.2" height="5.6" fill="#aaa" stroke="#444" stroke-width="1"/>
<line x1="241.4" y1="633.0" x2="241.4" y2="647.7" stroke="#333" stroke-width="1"/>
<rect x="239.8" y="636.5" width="3.2" height="8.4" fill="#111" stroke="#111" stroke-width="1"/>
<line x1="246.6" y1="634.4" x2="246.6" y2="644.2" stroke="#333" stroke-width="1"/>
<rect x="245.0" y="635.8" width="3.2" height="8.4" fill="#aaa" stroke="#444" stroke-width="1"/>
<line x1="251.7" y1="601.5" x2="251.7" y2="632.3" stroke="#333" stroke-width="1"/>
<rect x="250.1" y="607.1" width="3.2" height="21.0" fill="#aaa" stroke="#444" stroke-width="1"/>
<line x1="256.8" y1="543.0" x2="256.8" y2="610.0" stroke="#333" stroke-width="1"/>
<rect x="255.2" y="557.0" width="3.2" height="47.6" fill="#aaa" stroke="#444" stroke-width="1"/>
<line x1="261.9" y1="545.0" x2="261.9" y2="566.8" stroke="#333" stroke-width="1"/>
<rect x="260.3" y="548.4" width="3.2" height="9.6" fill="#aaa" stroke="#444" stroke-width="1"/>
<line x1="267.1" y1="529.0" x2="267.1" y2="552.7" stroke="#333" stroke-width="1"/>
<rect x="265.5" y="531.0" width="3.2" height="19.5" fill="#aaa" stroke="#444" stroke-width="1"/>
<line x1="272.2" y1="508.4" x2="272.2" y2="533.2" stroke="#333" stroke-width="1"/>
<rect x="270.6" y="510.5" width="3.2" height="20.5" fill="#aaa" stroke="#444" stroke-width="1"/>
<line x1="277.3" y1="498.6" x2="277.3" y2="516.0" stroke="#333" stroke-width="1"/>
<rect x="275.7" y="499.7" width="3.2" height="9.8" fill="#aaa" stroke="#444" stroke-width="1"/>
<line x1="282.4" y1="499.7" x2="282.4" y2="519.2" stroke="#333" stroke-width="1"/>
<rect x="280.8" y="500.2" width="3.2" height="14.8" fill="#111" stroke="#111" stroke-width="1"/>
<line x1="287.5" y1="505.0" x2="287.5" y2="541.9" stroke="#333" stroke-width="1"/>
<rect x="285.9" y="513.8" width="3.2" height="20.5" fill="#111" stroke="#111" stroke-width="1"/>
<line x1="292.7" y1="517.0" x2="292.7" y2="536.5" stroke="#333" stroke-width="1"/>
<rect x="291.1" y="520.3" width="3.2" height="15.1" fill="#aaa" stroke="#444" stroke-width="1"/>
<line x1="297.8" y1="503.0" x2="297.8" y2="526.8" stroke="#333" stroke-width="1"/>
<rect x="296.2" y="505.0" width="3.2" height="16.4" fill="#aaa" stroke="#444" stroke-width="1"/>
<line x1="302.9" y1="472.7" x2="302.9" y2="510.5" stroke="#333" stroke-width="1"/>
<rect x="301.3" y="479.2" width="3.2" height="25.8" fill="#aaa" stroke="#444" stroke-width="1"/>
<line x1="308.0" y1="474.9" x2="308.0" y2="496.5" stroke="#333" stroke-width="1"/>
<rect x="306.4" y="482.4" width="3.2" height="11.9" fill="#111" stroke="#111" stroke-width="1"/>
<line x1="313.2" y1="483.5" x2="313.2" y2="504.0" stroke="#333" stroke-width="1"/>
<rect x="311.6" y="492.0" width="3.2" height="1.2" fill="#111" stroke="#111" stroke-width="1"/>
<line x1="318.3" y1="489.0" x2="318.3" y2="507.3" stroke="#333" stroke-width="1"/>
<rect x="316.7" y="492.0" width="3.2" height="1.2" fill="#111" stroke="#111" stroke-width="1"/>
<line x1="323.4" y1="480.3" x2="323.4" y2="496.5" stroke="#333" stroke-width="1"/>
<rect x="321.8" y="481.4" width="3.2" height="11.8" fill="#aaa" stroke="#444" stroke-width="1"/>
<line x1="328.5" y1="480.3" x2="328.5" y2="490.0" stroke="#333" stroke-width="1"/>
<rect x="326.9" y="481.4" width="3.2" height="6.4" fill="#111" stroke="#111" stroke-width="1"/>
<line x1="333.7" y1="470.5" x2="333.7" y2="486.8" stroke="#333" stroke-width="1"/>
<rect x="332.1" y="471.6" width="3.2" height="14.1" fill="#aaa" stroke="#444" stroke-width="1"/>
<line x1="338.8" y1="466.2" x2="338.8" y2="481.4" stroke="#333" stroke-width="1"/>
<rect x="337.2" y="469.5" width="3.2" height="10.8" fill="#111" stroke="#111" stroke-width="1"/>
<line x1="343.9" y1="472.7" x2="343.9" y2="490.0" stroke="#333" stroke-width="1"/>
<rect x="342.3" y="481.5" width="3.2" height="1.2" fill="#111" stroke="#111" stroke-width="1"/>
<line x1="349.0" y1="474.9" x2="349.0" y2="485.7" stroke="#333" stroke-width="1"/>
<rect x="347.4" y="480.5" width="3.2" height="1.2" fill="#111" stroke="#111" stroke-width="1"/>
<line x1="354.1" y1="480.3" x2="354.1" y2="499.7" stroke="#333" stroke-width="1"/>
<rect x="352.5" y="482.0" width="3.2" height="6.5" fill="#111" stroke="#111" stroke-width="1"/>
<line x1="359.3" y1="486.8" x2="359.3" y2="504.0" stroke="#333" stroke-width="1"/>
<rect x="357.7" y="489.0" width="3.2" height="6.4" fill="#111" stroke="#111" stroke-width="1"/>
<line x1="364.4" y1="487.8" x2="364.4" y2="496.5" stroke="#333" stroke-width="1"/>
<rect x="362.8" y="493.0" width="3.2" height="1.2" fill="#111" stroke="#111" stroke-width="1"/>
<line x1="369.5" y1="493.4" x2="369.5" y2="505.5" stroke="#333" stroke-width="1"/>
<rect x="367.9" y="495.4" width="3.2" height="7.0" fill="#111" stroke="#111" stroke-width="1"/>
<line x1="374.6" y1="482.0" x2="374.6" y2="502.4" stroke="#333" stroke-width="1"/>
<rect x="373.0" y="486.5" width="3.2" height="15.9" fill="#aaa" stroke="#444" stroke-width="1"/>
<line x1="379.8" y1="476.9" x2="379.8" y2="489.0" stroke="#333" stroke-width="1"/>
<rect x="378.2" y="477.5" width="3.2" height="7.7" fill="#aaa" stroke="#444" stroke-width="1"/>
<line x1="384.9" y1="470.5" x2="384.9" y2="479.4" stroke="#333" stroke-width="1"/>
<rect x="383.3" y="471.2" width="3.2" height="7.0" fill="#aaa" stroke="#444" stroke-width="1"/>
<line x1="390.0" y1="465.5" x2="390.0" y2="477.5" stroke="#333" stroke-width="1"/>
<rect x="388.4" y="470.5" width="3.2" height="2.5" fill="#111" stroke="#111" stroke-width="1"/>
<line x1="395.1" y1="470.5" x2="395.1" y2="499.8" stroke="#333" stroke-width="1"/>
<rect x="393.5" y="472.5" width="3.2" height="6.3" fill="#111" stroke="#111" stroke-width="1"/>
<line x1="400.2" y1="470.5" x2="400.2" y2="484.0" stroke="#333" stroke-width="1"/>
<rect x="398.6" y="478.8" width="3.2" height="3.2" fill="#aaa" stroke="#444" stroke-width="1"/>
<line x1="405.4" y1="478.2" x2="405.4" y2="496.0" stroke="#333" stroke-width="1"/>
<rect x="403.8" y="478.8" width="3.2" height="15.9" fill="#111" stroke="#111" stroke-width="1"/>
<line x1="410.5" y1="484.5" x2="410.5" y2="494.7" stroke="#333" stroke-width="1"/>
<rect x="408.9" y="485.2" width="3.2" height="8.2" fill="#aaa" stroke="#444" stroke-width="1"/>
<line x1="415.6" y1="480.7" x2="415.6" y2="491.0" stroke="#333" stroke-width="1"/>
<rect x="414.0" y="481.4" width="3.2" height="2.6" fill="#aaa" stroke="#444" stroke-width="1"/>
<line x1="420.7" y1="484.0" x2="420.7" y2="504.3" stroke="#333" stroke-width="1"/>
<rect x="419.1" y="485.2" width="3.2" height="15.2" fill="#111" stroke="#111" stroke-width="1"/>
<line x1="425.9" y1="498.5" x2="425.9" y2="526.5" stroke="#333" stroke-width="1"/>
<rect x="424.3" y="499.0" width="3.2" height="1.5" fill="#111" stroke="#111" stroke-width="1"/>
<line x1="431.0" y1="481.4" x2="431.0" y2="505.0" stroke="#333" stroke-width="1"/>
<rect x="429.4" y="485.2" width="3.2" height="14.0" fill="#aaa" stroke="#444" stroke-width="1"/>
<line x1="436.1" y1="472.5" x2="436.1" y2="484.5" stroke="#333" stroke-width="1"/>
<rect x="434.5" y="479.4" width="3.2" height="2.6" fill="#111" stroke="#111" stroke-width="1"/>
<line x1="441.2" y1="480.7" x2="441.2" y2="495.4" stroke="#333" stroke-width="1"/>
<rect x="439.6" y="481.4" width="3.2" height="7.0" fill="#111" stroke="#111" stroke-width="1"/>
<line x1="446.4" y1="482.0" x2="446.4" y2="502.4" stroke="#333" stroke-width="1"/>
<rect x="444.8" y="489.0" width="3.2" height="2.0" fill="#111" stroke="#111" stroke-width="1"/>
<line x1="451.5" y1="483.3" x2="451.5" y2="494.7" stroke="#333" stroke-width="1"/>
<rect x="449.9" y="484.0" width="3.2" height="10.7" fill="#aaa" stroke="#444" stroke-width="1"/>
<line x1="456.6" y1="483.3" x2="456.6" y2="492.5" stroke="#333" stroke-width="1"/>
<rect x="455.0" y="484.0" width="3.2" height="8.2" fill="#111" stroke="#111" stroke-width="1"/>
<line x1="461.7" y1="492.2" x2="461.7" y2="499.2" stroke="#333" stroke-width="1"/>
<rect x="460.1" y="492.8" width="3.2" height="3.2" fill="#111" stroke="#111" stroke-width="1"/>
<line x1="466.8" y1="491.0" x2="466.8" y2="500.4" stroke="#333" stroke-width="1"/>
<rect x="465.2" y="492.8" width="3.2" height="4.5" fill="#111" stroke="#111" stroke-width="1"/>
<line x1="472.0" y1="498.5" x2="472.0" y2="506.8" stroke="#333" stroke-width="1"/>
<rect x="470.4" y="498.5" width="3.2" height="2.5" fill="#111" stroke="#111" stroke-width="1"/>
<line x1="477.1" y1="487.0" x2="477.1" y2="505.5" stroke="#333" stroke-width="1"/>
<rect x="475.5" y="491.5" width="3.2" height="10.9" fill="#aaa" stroke="#444" stroke-width="1"/>
<line x1="482.2" y1="476.3" x2="482.2" y2="491.3" stroke="#333" stroke-width="1"/>
<rect x="480.6" y="477.5" width="3.2" height="13.7" fill="#aaa" stroke="#444" stroke-width="1"/>
<line x1="487.3" y1="465.8" x2="487.3" y2="479.8" stroke="#333" stroke-width="1"/>
<rect x="485.7" y="476.0" width="3.2" height="3.2" fill="#111" stroke="#111" stroke-width="1"/>
<line x1="492.5" y1="467.7" x2="492.5" y2="481.0" stroke="#333" stroke-width="1"/>
<rect x="490.9" y="468.4" width="3.2" height="8.9" fill="#aaa" stroke="#444" stroke-width="1"/>
<line x1="497.6" y1="458.2" x2="497.6" y2="466.4" stroke="#333" stroke-width="1"/>
<rect x="496.0" y="458.5" width="3.2" height="7.9" fill="#aaa" stroke="#444" stroke-width="1"/>
<line x1="502.7" y1="451.2" x2="502.7" y2="465.2" stroke="#333" stroke-width="1"/>
<rect x="501.1" y="451.8" width="3.2" height="6.4" fill="#aaa" stroke="#444" stroke-width="1"/>
<line x1="507.8" y1="441.0" x2="507.8" y2="453.7" stroke="#333" stroke-width="1"/>
<rect x="506.2" y="446.7" width="3.2" height="4.5" fill="#aaa" stroke="#444" stroke-width="1"/>
<line x1="513.0" y1="444.8" x2="513.0" y2="462.0" stroke="#333" stroke-width="1"/>
<rect x="511.4" y="445.5" width="3.2" height="11.5" fill="#111" stroke="#111" stroke-width="1"/>
<line x1="518.1" y1="445.5" x2="518.1" y2="460.0" stroke="#333" stroke-width="1"/>
<rect x="516.5" y="446.7" width="3.2" height="10.3" fill="#aaa" stroke="#444" stroke-width="1"/>
<line x1="523.2" y1="440.4" x2="523.2" y2="454.4" stroke="#333" stroke-width="1"/>
<rect x="521.6" y="448.0" width="3.2" height="3.8" fill="#111" stroke="#111" stroke-width="1"/>
<line x1="528.3" y1="447.4" x2="528.3" y2="458.2" stroke="#333" stroke-width="1"/>
<rect x="526.7" y="451.8" width="3.2" height="3.2" fill="#111" stroke="#111" stroke-width="1"/>
<line x1="533.4" y1="453.7" x2="533.4" y2="464.5" stroke="#333" stroke-width="1"/>
<rect x="531.8" y="454.0" width="3.2" height="6.7" fill="#111" stroke="#111" stroke-width="1"/>
<line x1="538.6" y1="450.0" x2="538.6" y2="462.0" stroke="#333" stroke-width="1"/>
<rect x="537.0" y="458.8" width="3.2" height="3.2" fill="#aaa" stroke="#444" stroke-width="1"/>
<line x1="543.7" y1="446.7" x2="543.7" y2="460.0" stroke="#333" stroke-width="1"/>
<rect x="542.1" y="448.6" width="3.2" height="11.4" fill="#aaa" stroke="#444" stroke-width="1"/>
<line x1="548.8" y1="447.4" x2="548.8" y2="464.5" stroke="#333" stroke-width="1"/>
<rect x="547.2" y="450.0" width="3.2" height="1.8" fill="#111" stroke="#111" stroke-width="1"/>
<line x1="553.9" y1="450.5" x2="553.9" y2="479.2" stroke="#333" stroke-width="1"/>
<rect x="552.3" y="450.5" width="3.2" height="22.9" fill="#111" stroke="#111" stroke-width="1"/>
<line x1="559.1" y1="463.3" x2="559.1" y2="481.0" stroke="#333" stroke-width="1"/>
<rect x="557.5" y="464.5" width="3.2" height="11.5" fill="#aaa" stroke="#444" stroke-width="1"/>
<line x1="564.2" y1="463.3" x2="564.2" y2="470.9" stroke="#333" stroke-width="1"/>
<rect x="562.6" y="464.5" width="3.2" height="1.3" fill="#111" stroke="#111" stroke-width="1"/>
<line x1="569.3" y1="444.2" x2="569.3" y2="467.0" stroke="#333" stroke-width="1"/>
<rect x="567.7" y="451.8" width="3.2" height="15.2" fill="#aaa" stroke="#444" stroke-width="1"/>
<line x1="574.4" y1="446.7" x2="574.4" y2="464.5" stroke="#333" stroke-width="1"/>
<rect x="572.8" y="447.0" width="3.2" height="15.0" fill="#111" stroke="#111" stroke-width="1"/>
<line x1="579.6" y1="441.0" x2="579.6" y2="464.5" stroke="#333" stroke-width="1"/>
<rect x="578.0" y="460.7" width="3.2" height="1.3" fill="#111" stroke="#111" stroke-width="1"/>
<line x1="584.7" y1="459.5" x2="584.7" y2="478.0" stroke="#333" stroke-width="1"/>
<rect x="583.1" y="463.3" width="3.2" height="9.5" fill="#111" stroke="#111" stroke-width="1"/>
<line x1="589.8" y1="451.8" x2="589.8" y2="478.5" stroke="#333" stroke-width="1"/>
<rect x="588.2" y="453.0" width="3.2" height="11.0" fill="#aaa" stroke="#444" stroke-width="1"/>
<line x1="594.9" y1="445.5" x2="594.9" y2="456.3" stroke="#333" stroke-width="1"/>
<rect x="593.3" y="450.0" width="3.2" height="3.0" fill="#aaa" stroke="#444" stroke-width="1"/>
<line x1="600.0" y1="443.5" x2="600.0" y2="455.0" stroke="#333" stroke-width="1"/>
<rect x="598.4" y="446.6" width="3.2" height="6.8" fill="#111" stroke="#111" stroke-width="1"/>
<line x1="605.2" y1="448.9" x2="605.2" y2="468.7" stroke="#333" stroke-width="1"/>
<rect x="603.6" y="460.3" width="3.2" height="1.2" fill="#111" stroke="#111" stroke-width="1"/>
<line x1="610.3" y1="458.0" x2="610.3" y2="465.6" stroke="#333" stroke-width="1"/>
<rect x="608.7" y="458.8" width="3.2" height="2.2" fill="#aaa" stroke="#444" stroke-width="1"/>
<line x1="615.4" y1="460.3" x2="615.4" y2="476.3" stroke="#333" stroke-width="1"/>
<rect x="613.8" y="461.0" width="3.2" height="7.7" fill="#111" stroke="#111" stroke-width="1"/>
<line x1="620.5" y1="468.0" x2="620.5" y2="485.5" stroke="#333" stroke-width="1"/>
<rect x="618.9" y="468.0" width="3.2" height="15.2" fill="#111" stroke="#111" stroke-width="1"/>
<line x1="625.7" y1="476.3" x2="625.7" y2="503.8" stroke="#333" stroke-width="1"/>
<rect x="624.1" y="482.4" width="3.2" height="21.4" fill="#111" stroke="#111" stroke-width="1"/>
<line x1="630.8" y1="484.7" x2="630.8" y2="508.4" stroke="#333" stroke-width="1"/>
<rect x="629.2" y="487.0" width="3.2" height="16.8" fill="#aaa" stroke="#444" stroke-width="1"/>
<line x1="635.9" y1="473.3" x2="635.9" y2="488.5" stroke="#333" stroke-width="1"/>
<rect x="634.3" y="481.7" width="3.2" height="3.8" fill="#aaa" stroke="#444" stroke-width="1"/>
<line x1="641.0" y1="481.0" x2="641.0" y2="493.1" stroke="#333" stroke-width="1"/>
<rect x="639.4" y="481.0" width="3.2" height="6.0" fill="#111" stroke="#111" stroke-width="1"/>
<line x1="646.2" y1="477.1" x2="646.2" y2="490.0" stroke="#333" stroke-width="1"/>
<rect x="644.6" y="481.0" width="3.2" height="6.0" fill="#aaa" stroke="#444" stroke-width="1"/>
<line x1="651.3" y1="451.9" x2="651.3" y2="487.8" stroke="#333" stroke-width="1"/>
<rect x="649.7" y="458.0" width="3.2" height="23.7" fill="#aaa" stroke="#444" stroke-width="1"/>
<line x1="656.4" y1="447.3" x2="656.4" y2="460.3" stroke="#333" stroke-width="1"/>
<rect x="654.8" y="455.0" width="3.2" height="3.8" fill="#aaa" stroke="#444" stroke-width="1"/>
<line x1="661.5" y1="432.0" x2="661.5" y2="455.0" stroke="#333" stroke-width="1"/>
<rect x="659.9" y="434.4" width="3.2" height="20.6" fill="#aaa" stroke="#444" stroke-width="1"/>
<line x1="666.6" y1="397.0" x2="666.6" y2="434.4" stroke="#333" stroke-width="1"/>
<rect x="665.0" y="397.8" width="3.2" height="36.6" fill="#aaa" stroke="#444" stroke-width="1"/>
<line x1="671.8" y1="363.6" x2="671.8" y2="417.0" stroke="#333" stroke-width="1"/>
<rect x="670.2" y="394.3" width="3.2" height="2.7" fill="#111" stroke="#111" stroke-width="1"/>
<line x1="676.9" y1="379.7" x2="676.9" y2="439.8" stroke="#333" stroke-width="1"/>
<rect x="675.3" y="390.3" width="3.2" height="25.4" fill="#111" stroke="#111" stroke-width="1"/>
<line x1="682.0" y1="373.0" x2="682.0" y2="429.0" stroke="#333" stroke-width="1"/>
<rect x="680.4" y="382.3" width="3.2" height="37.4" fill="#aaa" stroke="#444" stroke-width="1"/>
<line x1="687.1" y1="369.0" x2="687.1" y2="393.0" stroke="#333" stroke-width="1"/>
<rect x="685.5" y="375.6" width="3.2" height="10.7" fill="#aaa" stroke="#444" stroke-width="1"/>
<line x1="692.3" y1="353.0" x2="692.3" y2="375.6" stroke="#333" stroke-width="1"/>
<rect x="690.7" y="354.3" width="3.2" height="21.3" fill="#aaa" stroke="#444" stroke-width="1"/>
<line x1="697.4" y1="319.5" x2="697.4" y2="354.3" stroke="#333" stroke-width="1"/>
<rect x="695.8" y="330.2" width="3.2" height="24.1" fill="#aaa" stroke="#444" stroke-width="1"/>
<line x1="702.5" y1="282.0" x2="702.5" y2="334.2" stroke="#333" stroke-width="1"/>
<rect x="700.9" y="283.4" width="3.2" height="46.8" fill="#aaa" stroke="#444" stroke-width="1"/>
<line x1="707.6" y1="282.0" x2="707.6" y2="296.8" stroke="#333" stroke-width="1"/>
<rect x="706.0" y="283.4" width="3.2" height="13.4" fill="#111" stroke="#111" stroke-width="1"/>
<line x1="712.8" y1="290.0" x2="712.8" y2="307.5" stroke="#333" stroke-width="1"/>
<rect x="711.2" y="294.0" width="3.2" height="12.2" fill="#111" stroke="#111" stroke-width="1"/>
<line x1="717.9" y1="268.7" x2="717.9" y2="303.5" stroke="#333" stroke-width="1"/>
<rect x="716.3" y="272.8" width="3.2" height="30.7" fill="#aaa" stroke="#444" stroke-width="1"/>
<line x1="723.0" y1="251.4" x2="723.0" y2="276.8" stroke="#333" stroke-width="1"/>
<rect x="721.4" y="254.0" width="3.2" height="16.0" fill="#aaa" stroke="#444" stroke-width="1"/>
<line x1="728.1" y1="234.0" x2="728.1" y2="254.0" stroke="#333" stroke-width="1"/>
<rect x="726.5" y="244.7" width="3.2" height="9.3" fill="#aaa" stroke="#444" stroke-width="1"/>
<line x1="733.2" y1="236.7" x2="733.2" y2="264.7" stroke="#333" stroke-width="1"/>
<rect x="731.6" y="243.4" width="3.2" height="14.6" fill="#111" stroke="#111" stroke-width="1"/>
<line x1="738.4" y1="254.0" x2="738.4" y2="276.8" stroke="#333" stroke-width="1"/>
<rect x="736.8" y="255.4" width="3.2" height="1.3" fill="#111" stroke="#111" stroke-width="1"/>
<line x1="743.5" y1="247.4" x2="743.5" y2="259.4" stroke="#333" stroke-width="1"/>
<rect x="741.9" y="254.0" width="3.2" height="4.0" fill="#aaa" stroke="#444" stroke-width="1"/>
<line x1="748.6" y1="254.0" x2="748.6" y2="276.8" stroke="#333" stroke-width="1"/>
<rect x="747.0" y="255.4" width="3.2" height="9.3" fill="#111" stroke="#111" stroke-width="1"/>
<line x1="753.7" y1="255.4" x2="753.7" y2="271.4" stroke="#333" stroke-width="1"/>
<rect x="752.1" y="258.0" width="3.2" height="6.7" fill="#aaa" stroke="#444" stroke-width="1"/>
<line x1="758.9" y1="255.4" x2="758.9" y2="264.7" stroke="#333" stroke-width="1"/>
<rect x="757.3" y="256.7" width="3.2" height="1.3" fill="#111" stroke="#111" stroke-width="1"/>
<line x1="764.0" y1="250.0" x2="764.0" y2="259.6" stroke="#333" stroke-width="1"/>
<rect x="762.4" y="251.4" width="3.2" height="4.0" fill="#aaa" stroke="#444" stroke-width="1"/>
<line x1="769.1" y1="244.4" x2="769.1" y2="252.0" stroke="#333" stroke-width="1"/>
<rect x="767.5" y="246.3" width="3.2" height="5.7" fill="#aaa" stroke="#444" stroke-width="1"/>
<line x1="774.2" y1="215.8" x2="774.2" y2="247.2" stroke="#333" stroke-width="1"/>
<rect x="772.6" y="216.7" width="3.2" height="30.5" fill="#aaa" stroke="#444" stroke-width="1"/>
<line x1="779.4" y1="207.2" x2="779.4" y2="228.0" stroke="#333" stroke-width="1"/>
<rect x="777.8" y="213.8" width="3.2" height="2.0" fill="#111" stroke="#111" stroke-width="1"/>
<line x1="784.5" y1="212.0" x2="784.5" y2="235.8" stroke="#333" stroke-width="1"/>
<rect x="782.9" y="212.9" width="3.2" height="8.6" fill="#111" stroke="#111" stroke-width="1"/>
<line x1="789.6" y1="209.0" x2="789.6" y2="245.3" stroke="#333" stroke-width="1"/>
<rect x="788.0" y="213.8" width="3.2" height="17.2" fill="#111" stroke="#111" stroke-width="1"/>
<line x1="794.7" y1="230.0" x2="794.7" y2="255.8" stroke="#333" stroke-width="1"/>
<rect x="793.1" y="232.0" width="3.2" height="5.7" fill="#111" stroke="#111" stroke-width="1"/>
<line x1="799.8" y1="216.7" x2="799.8" y2="248.2" stroke="#333" stroke-width="1"/>
<rect x="798.2" y="218.6" width="3.2" height="18.1" fill="#aaa" stroke="#444" stroke-width="1"/>
<line x1="805.0" y1="213.0" x2="805.0" y2="241.5" stroke="#333" stroke-width="1"/>
<rect x="803.4" y="219.6" width="3.2" height="17.1" fill="#111" stroke="#111" stroke-width="1"/>
<line x1="810.1" y1="230.0" x2="810.1" y2="266.3" stroke="#333" stroke-width="1"/>
<rect x="808.5" y="238.6" width="3.2" height="10.5" fill="#111" stroke="#111" stroke-width="1"/>
<line x1="815.2" y1="245.3" x2="815.2" y2="264.4" stroke="#333" stroke-width="1"/>
<rect x="813.6" y="249.1" width="3.2" height="10.5" fill="#111" stroke="#111" stroke-width="1"/>
<line x1="820.3" y1="234.8" x2="820.3" y2="261.5" stroke="#333" stroke-width="1"/>
<rect x="818.7" y="235.8" width="3.2" height="22.9" fill="#aaa" stroke="#444" stroke-width="1"/>
<line x1="825.5" y1="231.0" x2="825.5" y2="242.5" stroke="#333" stroke-width="1"/>
<rect x="823.9" y="234.8" width="3.2" height="6.7" fill="#111" stroke="#111" stroke-width="1"/>
<line x1="830.6" y1="231.0" x2="830.6" y2="244.4" stroke="#333" stroke-width="1"/>
<rect x="829.0" y="241.5" width="3.2" height="2.9" fill="#111" stroke="#111" stroke-width="1"/>
<line x1="835.7" y1="248.2" x2="835.7" y2="268.2" stroke="#333" stroke-width="1"/>
<rect x="834.1" y="249.1" width="3.2" height="7.7" fill="#111" stroke="#111" stroke-width="1"/>
<line x1="840.8" y1="254.9" x2="840.8" y2="283.5" stroke="#333" stroke-width="1"/>
<rect x="839.2" y="255.8" width="3.2" height="15.2" fill="#111" stroke="#111" stroke-width="1"/>
<line x1="846.0" y1="269.2" x2="846.0" y2="319.7" stroke="#333" stroke-width="1"/>
<rect x="844.4" y="270.1" width="3.2" height="40.1" fill="#111" stroke="#111" stroke-width="1"/>
<line x1="851.1" y1="278.7" x2="851.1" y2="327.4" stroke="#333" stroke-width="1"/>
<rect x="849.5" y="281.6" width="3.2" height="31.4" fill="#aaa" stroke="#444" stroke-width="1"/>
<line x1="856.2" y1="263.4" x2="856.2" y2="281.6" stroke="#333" stroke-width="1"/>
<rect x="854.6" y="266.3" width="3.2" height="14.3" fill="#aaa" stroke="#444" stroke-width="1"/>
<line x1="861.3" y1="265.4" x2="861.3" y2="285.0" stroke="#333" stroke-width="1"/>
<rect x="859.7" y="266.3" width="3.2" height="1.2" fill="#111" stroke="#111" stroke-width="1"/>
<line x1="866.4" y1="268.2" x2="866.4" y2="291.0" stroke="#333" stroke-width="1"/>
<rect x="864.8" y="269.2" width="3.2" height="16.2" fill="#111" stroke="#111" stroke-width="1"/>
<line x1="871.6" y1="265.4" x2="871.6" y2="286.3" stroke="#333" stroke-width="1"/>
<rect x="870.0" y="266.3" width="3.2" height="20.0" fill="#aaa" stroke="#444" stroke-width="1"/>
<line x1="876.7" y1="241.5" x2="876.7" y2="268.0" stroke="#333" stroke-width="1"/>
<rect x="875.1" y="246.3" width="3.2" height="21.0" fill="#aaa" stroke="#444" stroke-width="1"/>
<line x1="881.8" y1="234.8" x2="881.8" y2="248.0" stroke="#333" stroke-width="1"/>
<rect x="880.2" y="241.0" width="3.2" height="2.8" fill="#111" stroke="#111" stroke-width="1"/>
<line x1="886.9" y1="243.0" x2="886.9" y2="264.0" stroke="#333" stroke-width="1"/>
<rect x="885.3" y="244.5" width="3.2" height="2.1" fill="#111" stroke="#111" stroke-width="1"/>
<line x1="892.1" y1="239.7" x2="892.1" y2="255.7" stroke="#333" stroke-width="1"/>
<rect x="890.5" y="247.3" width="3.2" height="2.7" fill="#111" stroke="#111" stroke-width="1"/>
<line x1="897.2" y1="243.8" x2="897.2" y2="271.0" stroke="#333" stroke-width="1"/>
<rect x="895.6" y="250.8" width="3.2" height="17.5" fill="#111" stroke="#111" stroke-width="1"/>
<line x1="902.3" y1="249.4" x2="902.3" y2="269.7" stroke="#333" stroke-width="1"/>
<rect x="900.7" y="253.0" width="3.2" height="14.6" fill="#aaa" stroke="#444" stroke-width="1"/>
<line x1="907.4" y1="246.0" x2="907.4" y2="261.3" stroke="#333" stroke-width="1"/>
<rect x="905.8" y="250.0" width="3.2" height="11.3" fill="#aaa" stroke="#444" stroke-width="1"/>
<line x1="912.5" y1="248.7" x2="912.5" y2="277.4" stroke="#333" stroke-width="1"/>
<rect x="910.9" y="249.4" width="3.2" height="24.6" fill="#111" stroke="#111" stroke-width="1"/>
<line x1="917.7" y1="266.2" x2="917.7" y2="280.2" stroke="#333" stroke-width="1"/>
<rect x="916.1" y="268.3" width="3.2" height="4.9" fill="#aaa" stroke="#444" stroke-width="1"/>
<line x1="922.8" y1="266.2" x2="922.8" y2="280.2" stroke="#333" stroke-width="1"/>
<rect x="921.2" y="268.3" width="3.2" height="10.5" fill="#111" stroke="#111" stroke-width="1"/>
<path d="M458.0,489.0 C460.0,489.2 466.2,490.2 470.0,490.0 C473.8,489.8 479.2,488.3 481.0,488.0" fill="none" stroke="#ff6a00" stroke-width="2.2" stroke-linecap="round" opacity="0.75"/>
<path d="M576.0,459.0 C578.3,458.8 585.3,458.3 590.0,458.0 C594.7,457.7 600.0,456.7 604.0,457.0 C608.0,457.3 612.3,459.5 614.0,460.0" fill="none" stroke="#ff6a00" stroke-width="2.2" stroke-linecap="round" opacity="0.75"/>
<path d="M868.0,261.0 C870.0,260.5 875.2,258.9 880.0,258.0 C884.8,257.1 891.7,255.7 897.0,255.5 C902.3,255.3 907.7,256.0 912.0,257.0 C916.3,258.0 921.2,260.8 923.0,261.5" fill="none" stroke="#ff6a00" stroke-width="2.2" stroke-linecap="round" opacity="0.75"/>
<line x1="761.6" y1="204.8" x2="925.2" y2="244" stroke="#d9b57a" stroke-width="2.2"/>
<line x1="903.4" y1="245.7" x2="942.5" y2="246" stroke="#9c5a2a" stroke-width="2.5"/>
<line x1="779.8" y1="185.7" x2="779.8" y2="197.2" stroke="#f0d828" stroke-width="1.4"/>
<polygon points="776.5999999999999,194.7 783.0,194.7 779.8,202.2" fill="#f0d828"/>
<line x1="790.8" y1="187.8" x2="790.8" y2="199.2" stroke="#f0d828" stroke-width="1.4"/>
<polygon points="787.5999999999999,196.7 794.0,196.7 790.8,204.2" fill="#f0d828"/>
<line x1="805" y1="191.2" x2="805" y2="203.3" stroke="#f0d828" stroke-width="1.4"/>
<polygon points="801.8,200.8 808.2,200.8 805,208.3" fill="#f0d828"/>
<line x1="882.5" y1="208" x2="882.5" y2="223.5" stroke="#f0d828" stroke-width="1.4"/>
<polygon points="879.3,221.0 885.7,221.0 882.5,228.5" fill="#f0d828"/>
<line x1="900.8" y1="152" x2="900.8" y2="225.6" stroke="#c8c8c8" stroke-width="1.4"/>
<polygon points="897.5999999999999,223.1 904.0,223.1 900.8,230.6" fill="#c8c8c8"/>
<text x="860.1" y="127.3" font-size="14" fill="#c8c8c8" text-anchor="middle" font-weight="normal" textLength="197.7" lengthAdjust="spacingAndGlyphs" >compresión medias + ruptura añade</text>
<text x="859.6" y="144.3" font-size="14" fill="#c8c8c8" text-anchor="middle" font-weight="normal" textLength="180.8" lengthAdjust="spacingAndGlyphs" >presión bajista siguientes meses</text>
<text x="370.5" y="427" font-size="14" fill="#c4c4c4" text-anchor="middle" font-weight="normal" textLength="198" lengthAdjust="spacingAndGlyphs" >compresión medias + ruptura añade</text>
<text x="370.5" y="443.5" font-size="14" fill="#c4c4c4" text-anchor="middle" font-weight="normal" textLength="178" lengthAdjust="spacingAndGlyphs" >presión alcista siguientes meses</text>
<text x="605.7" y="539.5" font-size="14" fill="#c4c4c4" text-anchor="middle" font-weight="normal" textLength="198" lengthAdjust="spacingAndGlyphs" >compresión medias + ruptura añade</text>
<text x="605.7" y="556.5" font-size="14" fill="#c4c4c4" text-anchor="middle" font-weight="normal" textLength="180" lengthAdjust="spacingAndGlyphs" >presión bajista siguientes meses</text>
<path d="M470.3,480.0 C470.6,473.3 470.6,449.8 472.0,440.0 C473.4,430.2 476.0,424.8 479.0,421.0 C482.0,417.2 486.5,417.0 490.0,417.5 C493.5,418.0 498.3,422.9 500.0,424.0" fill="none" stroke="#bdbdbd" stroke-width="1.6"/>
<polygon points="505.0,433.0 497.9,427.9 503.9,424.3" fill="#bdbdbd"/>
<path d="M601.9,475.6 C601.8,478.8 600.0,489.3 601.0,495.0 C602.0,500.7 605.2,506.8 608.0,510.0 C610.8,513.2 616.3,513.3 618.0,514.0" fill="none" stroke="#bdbdbd" stroke-width="1.6"/>
<polygon points="625.0,513.0 617.7,517.8 616.5,510.9" fill="#bdbdbd"/>
<text x="942" y="224.5" font-size="13.5" fill="#9c6a40" text-anchor="middle" font-weight="normal" textLength="31" lengthAdjust="spacingAndGlyphs" >débil&lt;</text>
<text x="940.4" y="241" font-size="18.5" fill="#8c5a30" text-anchor="middle" font-weight="normal" textLength="33.6" lengthAdjust="spacingAndGlyphs" >267$</text>
<text x="784.4" y="334.7" font-size="17" fill="#222" text-anchor="start" font-weight="normal" textLength="34" lengthAdjust="spacingAndGlyphs" >100$</text>
<rect x="874" y="343" width="142" height="72" fill="#fff"/>
<text x="944.5" y="370.5" font-size="17.3" fill="#33e433" text-anchor="middle" font-weight="bold" textLength="131.5" lengthAdjust="spacingAndGlyphs" stroke="#33e433" stroke-width="0.45">Suelo crecimiento</text>
<text x="944.5" y="391.2" font-size="17.3" fill="#33e433" text-anchor="middle" font-weight="bold" textLength="117.6" lengthAdjust="spacingAndGlyphs" stroke="#33e433" stroke-width="0.45">2024 (e)= ¿suelo</text>
<text x="944.5" y="411.8" font-size="17.3" fill="#33e433" text-anchor="middle" font-weight="bold" textLength="93.6" lengthAdjust="spacingAndGlyphs" stroke="#33e433" stroke-width="0.45">precio 2024?</text>
<rect x="732.7" y="438.2" width="226" height="141.1" fill="#fff" stroke="#555" stroke-width="1.6"/>
<line x1="736" y1="465.2" x2="955" y2="465.2" stroke="#ececec" stroke-width="1"/>
<line x1="736" y1="494.4" x2="955" y2="494.4" stroke="#ececec" stroke-width="1"/>
<line x1="736" y1="523.7" x2="955" y2="523.7" stroke="#ececec" stroke-width="1"/>
<line x1="736" y1="555.4" x2="955" y2="555.4" stroke="#ececec" stroke-width="1"/>
<text x="737.2" y="452.3" font-size="11" fill="#444" text-anchor="start" font-weight="normal" textLength="74" lengthAdjust="spacingAndGlyphs" >Mean consensus</text>
<text x="950.7" y="452.3" font-size="11" fill="#444" text-anchor="end" font-weight="normal" textLength="26.5" lengthAdjust="spacingAndGlyphs" >HOLD</text>
<text x="737.2" y="482.7" font-size="11" fill="#444" text-anchor="start" font-weight="normal" textLength="83.9" lengthAdjust="spacingAndGlyphs" >Number of Analysts</text>
<text x="950.7" y="482.7" font-size="11" fill="#444" text-anchor="end" font-weight="normal" textLength="10.6" lengthAdjust="spacingAndGlyphs" >45</text>
<text x="737.2" y="513.2" font-size="11" fill="#444" text-anchor="start" font-weight="normal" textLength="71" lengthAdjust="spacingAndGlyphs" >Last Close Price</text>
<text x="955.4" y="513.2" font-size="11" fill="#333" text-anchor="end" font-weight="bold" textLength="47.6" lengthAdjust="spacingAndGlyphs" >169.5 USD</text>
<text x="737.2" y="543.7" font-size="11" fill="#444" text-anchor="start" font-weight="normal" textLength="84.6" lengthAdjust="spacingAndGlyphs" >Average target price</text>
<text x="955.4" y="543.7" font-size="11" fill="#333" text-anchor="end" font-weight="bold" textLength="47.6" lengthAdjust="spacingAndGlyphs" >208.8 USD</text>
<text x="737.2" y="572.5" font-size="11" fill="#444" text-anchor="start" font-weight="normal" textLength="102.6" lengthAdjust="spacingAndGlyphs" >Spread / Average Target</text>
<text x="955.4" y="572.5" font-size="11" fill="#2a9a2a" text-anchor="end" font-weight="bold" textLength="38.2" lengthAdjust="spacingAndGlyphs" >+23.21%</text>
<rect x="900.8" y="528.4" width="56.2" height="21.1" fill="none" stroke="#ecec20" stroke-width="2"/>
<rect x="494.2" y="585.2" width="464.3" height="140.3" fill="#fff" stroke="#555" stroke-width="1.6"/>
<line x1="497" y1="611.6" x2="955" y2="611.6" stroke="#ececec" stroke-width="1"/>
<line x1="497" y1="641.4" x2="955" y2="641.4" stroke="#ececec" stroke-width="1"/>
<line x1="497" y1="671.4" x2="955" y2="671.4" stroke="#ececec" stroke-width="1"/>
<line x1="497" y1="701.9" x2="955" y2="701.9" stroke="#ececec" stroke-width="1"/>
<text x="500.5" y="601.1" font-size="12" fill="#444" text-anchor="start" font-weight="normal" textLength="55.6" lengthAdjust="spacingAndGlyphs" >Sales 2024 *</text>
<text x="648.2" y="601.1" font-size="12" fill="#333" text-anchor="end" font-weight="bold" textLength="21.1" lengthAdjust="spacingAndGlyphs" >110B</text>
<text x="664.6" y="601.1" font-size="12" fill="#444" text-anchor="start" font-weight="normal" textLength="55.6" lengthAdjust="spacingAndGlyphs" >Sales 2025 *</text>
<text x="812.1" y="601.1" font-size="12" fill="#333" text-anchor="end" font-weight="bold" textLength="22.5" lengthAdjust="spacingAndGlyphs" >133B</text>
<text x="827.8" y="601.1" font-size="12" fill="#444" text-anchor="start" font-weight="normal" textLength="58.1" lengthAdjust="spacingAndGlyphs" >Capitalization</text>
<text x="949.2" y="601.1" font-size="12" fill="#333" text-anchor="end" font-weight="bold" textLength="22.5" lengthAdjust="spacingAndGlyphs" >540B</text>
<text x="500.5" y="631.1" font-size="12" fill="#444" text-anchor="start" font-weight="normal" textLength="79.7" lengthAdjust="spacingAndGlyphs" >Net income 2024 *</text>
<text x="648.2" y="631.1" font-size="12" fill="#333" text-anchor="end" font-weight="bold" textLength="24.6" lengthAdjust="spacingAndGlyphs" >9.68B</text>
<text x="664.6" y="631.1" font-size="12" fill="#444" text-anchor="start" font-weight="normal" textLength="79.7" lengthAdjust="spacingAndGlyphs" >Net income 2025 *</text>
<text x="812.1" y="631.1" font-size="12" fill="#333" text-anchor="end" font-weight="bold" textLength="30.7" lengthAdjust="spacingAndGlyphs" >13.74B</text>
<text x="827.8" y="631.1" font-size="12" fill="#444" text-anchor="start" font-weight="normal" textLength="74.5" lengthAdjust="spacingAndGlyphs" >EV / Sales 2024 *</text>
<text x="949.2" y="631.1" font-size="12" fill="#333" text-anchor="end" font-weight="bold" textLength="26.5" lengthAdjust="spacingAndGlyphs" >4.72 x</text>
<text x="500.5" y="660.9" font-size="12" fill="#444" text-anchor="start" font-weight="normal" textLength="105.5" lengthAdjust="spacingAndGlyphs" >Net cash position 2024 *</text>
<text x="648.2" y="660.9" font-size="12" fill="#333" text-anchor="end" font-weight="bold" textLength="29.8" lengthAdjust="spacingAndGlyphs" >22.33B</text>
<text x="664.6" y="660.9" font-size="12" fill="#444" text-anchor="start" font-weight="normal" textLength="105.5" lengthAdjust="spacingAndGlyphs" >Net cash position 2025 *</text>
<text x="812.1" y="660.9" font-size="12" fill="#333" text-anchor="end" font-weight="bold" textLength="30.7" lengthAdjust="spacingAndGlyphs" >31.15B</text>
<text x="827.8" y="660.9" font-size="12" fill="#444" text-anchor="start" font-weight="normal" textLength="74.5" lengthAdjust="spacingAndGlyphs" >EV / Sales 2025 *</text>
<text x="949.2" y="660.9" font-size="12" fill="#333" text-anchor="end" font-weight="bold" textLength="26.5" lengthAdjust="spacingAndGlyphs" >3.83 x</text>
<text x="500.5" y="690.6" font-size="12" fill="#444" text-anchor="start" font-weight="normal" textLength="66.4" lengthAdjust="spacingAndGlyphs" >P/E ratio 2024 *</text>
<text x="648.2" y="690.6" font-size="12" fill="#333" text-anchor="end" font-weight="bold" textLength="27" lengthAdjust="spacingAndGlyphs" >60.9 x</text>
<text x="664.6" y="690.6" font-size="12" fill="#444" text-anchor="start" font-weight="normal" textLength="66.4" lengthAdjust="spacingAndGlyphs" >P/E ratio 2025 *</text>
<text x="812.1" y="690.6" font-size="12" fill="#333" text-anchor="end" font-weight="bold" textLength="26.5" lengthAdjust="spacingAndGlyphs" >42.3 x</text>
<text x="827.8" y="690.6" font-size="12" fill="#444" text-anchor="start" font-weight="normal" textLength="48" lengthAdjust="spacingAndGlyphs" >Employees</text>
<text x="949.2" y="690.6" font-size="12" fill="#333" text-anchor="end" font-weight="bold" textLength="35.2" lengthAdjust="spacingAndGlyphs" >140,473</text>
<text x="500.5" y="720.6" font-size="12" fill="#444" text-anchor="start" font-weight="normal" textLength="51.6" lengthAdjust="spacingAndGlyphs" >Yield 2024 *</text>
<text x="648.2" y="720.6" font-size="12" fill="#333" text-anchor="end" font-weight="normal" >-</text>
<text x="664.6" y="720.6" font-size="12" fill="#444" text-anchor="start" font-weight="normal" textLength="51.6" lengthAdjust="spacingAndGlyphs" >Yield 2025 *</text>
<text x="812.1" y="720.6" font-size="12" fill="#333" text-anchor="end" font-weight="normal" >-</text>
<text x="827.8" y="720.6" font-size="12" fill="#444" text-anchor="start" font-weight="normal" textLength="44.5" lengthAdjust="spacingAndGlyphs" >Free-Float</text>
<text x="949.2" y="720.6" font-size="12" fill="#333" text-anchor="end" font-weight="bold" textLength="31.6" lengthAdjust="spacingAndGlyphs" >86.81%</text>
<rect x="357.4" y="687.3" width="123.5" height="23.2" fill="#fff" stroke="#444" stroke-width="1.5"/>
<text x="364" y="704.5" font-size="14.5" fill="#333" text-anchor="start" font-weight="normal" textLength="110" lengthAdjust="spacingAndGlyphs" >Frecuencia mensual</text>
<rect x="19.3" y="55.3" width="455.5" height="340.7" fill="#fff" stroke="#555" stroke-width="1.8"/>
<rect x="220.5" y="57" width="123.1" height="304" fill="#fbe5d6"/>
<rect x="343.6" y="57" width="91" height="304" fill="#e6f3dc"/>
<line x1="122" y1="80" x2="122" y2="360" stroke="#cfd4dc" stroke-width="0.8" stroke-dasharray="1.5,2"/>
<line x1="166.7" y1="80" x2="166.7" y2="360" stroke="#cfd4dc" stroke-width="0.8" stroke-dasharray="1.5,2"/>
<line x1="211" y1="80" x2="211" y2="360" stroke="#cfd4dc" stroke-width="0.8" stroke-dasharray="1.5,2"/>
<line x1="256" y1="80" x2="256" y2="360" stroke="#cfd4dc" stroke-width="0.8" stroke-dasharray="1.5,2"/>
<line x1="300.5" y1="80" x2="300.5" y2="360" stroke="#cfd4dc" stroke-width="0.8" stroke-dasharray="1.5,2"/>
<line x1="345" y1="80" x2="345" y2="360" stroke="#cfd4dc" stroke-width="0.8" stroke-dasharray="1.5,2"/>
<line x1="389.5" y1="80" x2="389.5" y2="360" stroke="#cfd4dc" stroke-width="0.8" stroke-dasharray="1.5,2"/>
<line x1="77.6" y1="78" x2="77.6" y2="361" stroke="#333" stroke-width="1.6"/>
<line x1="77" y1="360.8" x2="434.6" y2="360.8" stroke="#333" stroke-width="2"/>
<text x="73.3" y="83.2" font-size="12" fill="#8a8a8a" text-anchor="end" font-weight="normal" textLength="34.5" lengthAdjust="spacingAndGlyphs" >175,000</text>
<text x="73.3" y="118.7" font-size="12" fill="#8a8a8a" text-anchor="end" font-weight="normal" textLength="34.5" lengthAdjust="spacingAndGlyphs" >150,000</text>
<text x="73.3" y="154.2" font-size="12" fill="#8a8a8a" text-anchor="end" font-weight="normal" textLength="34.5" lengthAdjust="spacingAndGlyphs" >125,000</text>
<text x="73.3" y="189.7" font-size="12" fill="#8a8a8a" text-anchor="end" font-weight="normal" textLength="34.5" lengthAdjust="spacingAndGlyphs" >100,000</text>
<text x="73.3" y="225.2" font-size="12" fill="#8a8a8a" text-anchor="end" font-weight="normal" textLength="29.5" lengthAdjust="spacingAndGlyphs" >75,000</text>
<text x="73.3" y="260.7" font-size="12" fill="#8a8a8a" text-anchor="end" font-weight="normal" textLength="29.5" lengthAdjust="spacingAndGlyphs" >50,000</text>
<text x="73.3" y="296.2" font-size="12" fill="#8a8a8a" text-anchor="end" font-weight="normal" textLength="29.5" lengthAdjust="spacingAndGlyphs" >25,000</text>
<text x="73.3" y="331.7" font-size="12" fill="#8a8a8a" text-anchor="end" font-weight="normal" textLength="6" lengthAdjust="spacingAndGlyphs" >0</text>
<text x="73.3" y="367.2" font-size="12" fill="#8a8a8a" text-anchor="end" font-weight="normal" textLength="34.5" lengthAdjust="spacingAndGlyphs" >-25,000</text>
<text x="439.3" y="83.5" font-size="12" fill="#8a8a8a" text-anchor="start" font-weight="normal" textLength="32.5" lengthAdjust="spacingAndGlyphs" >20.00%</text>
<text x="439.3" y="140.1" font-size="12" fill="#8a8a8a" text-anchor="start" font-weight="normal" textLength="32.5" lengthAdjust="spacingAndGlyphs" >15.00%</text>
<text x="439.3" y="196.7" font-size="12" fill="#8a8a8a" text-anchor="start" font-weight="normal" textLength="32.5" lengthAdjust="spacingAndGlyphs" >10.00%</text>
<text x="439.3" y="253.3" font-size="12" fill="#8a8a8a" text-anchor="start" font-weight="normal" textLength="28" lengthAdjust="spacingAndGlyphs" >5.00%</text>
<text x="439.3" y="309.9" font-size="12" fill="#8a8a8a" text-anchor="start" font-weight="normal" textLength="28" lengthAdjust="spacingAndGlyphs" >0.00%</text>
<text x="439.3" y="366.5" font-size="12" fill="#8a8a8a" text-anchor="start" font-weight="normal" textLength="32.5" lengthAdjust="spacingAndGlyphs" >-5.00%</text>
<text x="0" y="0" font-size="12" fill="#9a9a9a" textLength="58.6" lengthAdjust="spacingAndGlyphs" transform="translate(29,221.7) rotate(-90)" text-anchor="middle">Million USD</text>
<text x="99.9" y="73.5" font-size="12" fill="#222" text-anchor="middle" font-weight="bold" textLength="21" lengthAdjust="spacingAndGlyphs" >2019</text>
<text x="144.6" y="73.5" font-size="12" fill="#222" text-anchor="middle" font-weight="bold" textLength="21" lengthAdjust="spacingAndGlyphs" >2020</text>
<text x="189.3" y="73.5" font-size="12" fill="#222" text-anchor="middle" font-weight="bold" textLength="21" lengthAdjust="spacingAndGlyphs" >2021</text>
<text x="233.9" y="73.5" font-size="12" fill="#222" text-anchor="middle" font-weight="bold" textLength="21" lengthAdjust="spacingAndGlyphs" >2022</text>
<text x="278.6" y="73.5" font-size="12" fill="#222" text-anchor="middle" font-weight="bold" textLength="21" lengthAdjust="spacingAndGlyphs" >2023</text>
<text x="323.3" y="73.5" font-size="12" fill="#222" text-anchor="middle" font-weight="bold" textLength="21" lengthAdjust="spacingAndGlyphs" >2024</text>
<text x="368.0" y="73.5" font-size="12" fill="#222" text-anchor="middle" font-weight="bold" textLength="21" lengthAdjust="spacingAndGlyphs" >2025</text>
<text x="412.7" y="73.5" font-size="12" fill="#222" text-anchor="middle" font-weight="bold" textLength="21" lengthAdjust="spacingAndGlyphs" >2026</text>
<rect x="86.5" y="291.6" width="9.2" height="34.9" fill="#333"/>
<rect x="95.7" y="326.0" width="9.2" height="0.5" fill="#f5c518"/>
<rect x="104.9" y="326.5" width="9.2" height="1.3" fill="#5a9e1a"/>
<rect x="131.3" y="282.0" width="9.4" height="44.5" fill="#333"/>
<rect x="140.7" y="324.8" width="9.3" height="1.7" fill="#f5c518"/>
<rect x="150" y="325.6" width="9.3" height="0.9" fill="#5a9e1a"/>
<rect x="175.6" y="251.0" width="9.4" height="75.5" fill="#333"/>
<rect x="185" y="317.5" width="9.4" height="9.0" fill="#f5c518"/>
<rect x="194.4" y="319.5" width="9.4" height="7.0" fill="#5a9e1a"/>
<rect x="220.8" y="211.5" width="9.2" height="115.0" fill="#3a2a1a"/>
<rect x="229.5" y="307.3" width="9.3" height="19.2" fill="#f5c518"/>
<rect x="238.8" y="308.7" width="9.6" height="17.8" fill="#5a9e1a"/>
<rect x="265.6" y="189.8" width="8.8" height="136.7" fill="#3a2a1a"/>
<rect x="274.4" y="314.2" width="8.6" height="12.3" fill="#f5c518"/>
<rect x="283" y="306.0" width="9.4" height="20.5" fill="#5a9e1a"/>
<rect x="310.2" y="170.7" width="9.6" height="155.8" fill="url(#hatch)"/>
<rect x="319.8" y="312.3" width="9.2" height="14.2" fill="url(#hatchY)"/>
<rect x="329" y="312.3" width="9.0" height="14.2" fill="url(#hatchG)"/>
<rect x="354.5" y="137.0" width="9.5" height="189.5" fill="url(#hatch)"/>
<rect x="364" y="305.4" width="9.5" height="21.1" fill="url(#hatchY)"/>
<rect x="373.5" y="306.5" width="9.5" height="20.0" fill="url(#hatchG)"/>
<rect x="399" y="108.4" width="10.2" height="218.1" fill="url(#hatch)"/>
<rect x="409.2" y="300.5" width="9.6" height="26.0" fill="url(#hatchY)"/>
<rect x="418.8" y="301.9" width="9.2" height="24.6" fill="url(#hatchG)"/>
<polyline points="99.7,307.4 144,233 188.8,167.2 233.4,114.4 278.5,200 323,198 367.6,174.8 412,167.7" fill="none" stroke="#ecc860" stroke-width="3"/>
<polyline points="99.7,343.8 144,278.4 188.8,188.3 233.4,129.7 278.5,129.7 323,204 367.6,188.2 412,174" fill="none" stroke="#5a9a2a" stroke-width="2.8"/>
<circle cx="99.7" cy="307.4" r="2.6" fill="#111"/>
<circle cx="144" cy="233" r="2.6" fill="#111"/>
<circle cx="188.8" cy="167.2" r="2.6" fill="#111"/>
<circle cx="233.4" cy="114.4" r="2.6" fill="#111"/>
<circle cx="278.5" cy="200" r="2.6" fill="#111"/>
<circle cx="323" cy="198" r="2.6" fill="#111"/>
<circle cx="367.6" cy="174.8" r="2.6" fill="#111"/>
<circle cx="412" cy="167.7" r="2.6" fill="#111"/>
<circle cx="99.7" cy="343.8" r="2.6" fill="#111"/>
<circle cx="144" cy="278.4" r="2.6" fill="#111"/>
<circle cx="188.8" cy="188.3" r="2.6" fill="#111"/>
<circle cx="233.4" cy="129.7" r="2.6" fill="#111"/>
<circle cx="278.5" cy="129.7" r="2.6" fill="#111"/>
<circle cx="323" cy="204" r="2.6" fill="#111"/>
<circle cx="367.6" cy="188.2" r="2.6" fill="#111"/>
<circle cx="412" cy="174" r="2.6" fill="#111"/>
<circle cx="42" cy="382.4" r="3.3" fill="#333"/>
<text x="52.2" y="387" font-size="12" fill="#444" text-anchor="start" font-weight="normal" textLength="24" lengthAdjust="spacingAndGlyphs" >Sales</text>
<circle cx="101.8" cy="382.4" r="3.3" fill="#f5c518"/>
<text x="112.7" y="387" font-size="12" fill="#444" text-anchor="start" font-weight="normal" textLength="66" lengthAdjust="spacingAndGlyphs" >Operating profit</text>
<circle cx="202.8" cy="382.4" r="3.3" fill="#5aa01a"/>
<text x="213.7" y="387" font-size="12" fill="#444" text-anchor="start" font-weight="normal" textLength="49" lengthAdjust="spacingAndGlyphs" >Net income</text>
<line x1="282" y1="382" x2="294.3" y2="382" stroke="#5a9a2a" stroke-width="2"/><circle cx="288.2" cy="382" r="2.4" fill="#111"/>
<text x="298.4" y="387" font-size="12" fill="#444" text-anchor="start" font-weight="normal" textLength="50" lengthAdjust="spacingAndGlyphs" >Net Margin</text>
<line x1="363.5" y1="382" x2="375" y2="382" stroke="#f5c518" stroke-width="2"/><circle cx="369.2" cy="382" r="2.4" fill="#111"/>
<text x="379.7" y="387" font-size="12" fill="#444" text-anchor="start" font-weight="normal" textLength="73.3" lengthAdjust="spacingAndGlyphs" >Operating Margin</text>
<text x="160" y="96.6" font-size="17.5" fill="#e0101e" text-anchor="middle" font-weight="bold" textLength="45.3" lengthAdjust="spacingAndGlyphs" >Techo</text>
<text x="158.8" y="117.9" font-size="17.5" fill="#e0101e" text-anchor="middle" font-weight="bold" textLength="93.6" lengthAdjust="spacingAndGlyphs" >crecimiento=</text>
<text x="158.5" y="138.4" font-size="17.5" fill="#e0101e" text-anchor="middle" font-weight="bold" textLength="91.6" lengthAdjust="spacingAndGlyphs" >techo precio</text>
<ellipse cx="234.7" cy="120.6" rx="12.7" ry="16.3" fill="none" stroke="#e8101e" stroke-width="3.4"/>
<ellipse cx="324.4" cy="200" rx="10.8" ry="12.8" fill="none" stroke="#2ee02e" stroke-width="3.2"/>
<rect x="477.8" y="56" width="215.8" height="261.8" fill="#fff" stroke="#555" stroke-width="1.8"/>
<rect x="478.8" y="100" width="180" height="179.7" fill="#fbe5d6"/>
<line x1="515.6" y1="100" x2="515.6" y2="279.7" stroke="#cbbfb5" stroke-width="0.8" stroke-dasharray="1.5,2"/>
<line x1="569.7" y1="100" x2="569.7" y2="279.7" stroke="#cbbfb5" stroke-width="0.8" stroke-dasharray="1.5,2"/>
<line x1="623.8" y1="100" x2="623.8" y2="279.7" stroke="#cbbfb5" stroke-width="0.8" stroke-dasharray="1.5,2"/>
<line x1="479" y1="101.0" x2="659" y2="101.0" stroke="#cbbfb5" stroke-width="0.8" stroke-dasharray="1.5,2"/>
<text x="666" y="105.0" font-size="11" fill="#8a8a8a" text-anchor="start" font-weight="normal" textLength="6" lengthAdjust="spacingAndGlyphs" >9</text>
<line x1="479" y1="126.4" x2="659" y2="126.4" stroke="#cbbfb5" stroke-width="0.8" stroke-dasharray="1.5,2"/>
<text x="666" y="130.4" font-size="11" fill="#8a8a8a" text-anchor="start" font-weight="normal" textLength="6" lengthAdjust="spacingAndGlyphs" >8</text>
<line x1="479" y1="151.8" x2="659" y2="151.8" stroke="#cbbfb5" stroke-width="0.8" stroke-dasharray="1.5,2"/>
<text x="666" y="155.8" font-size="11" fill="#8a8a8a" text-anchor="start" font-weight="normal" textLength="6" lengthAdjust="spacingAndGlyphs" >7</text>
<line x1="479" y1="177.2" x2="659" y2="177.2" stroke="#cbbfb5" stroke-width="0.8" stroke-dasharray="1.5,2"/>
<text x="666" y="181.2" font-size="11" fill="#8a8a8a" text-anchor="start" font-weight="normal" textLength="6" lengthAdjust="spacingAndGlyphs" >6</text>
<line x1="479" y1="202.6" x2="659" y2="202.6" stroke="#cbbfb5" stroke-width="0.8" stroke-dasharray="1.5,2"/>
<text x="666" y="206.6" font-size="11" fill="#8a8a8a" text-anchor="start" font-weight="normal" textLength="6" lengthAdjust="spacingAndGlyphs" >5</text>
<line x1="479" y1="228.0" x2="659" y2="228.0" stroke="#cbbfb5" stroke-width="0.8" stroke-dasharray="1.5,2"/>
<text x="666" y="232.0" font-size="11" fill="#8a8a8a" text-anchor="start" font-weight="normal" textLength="6" lengthAdjust="spacingAndGlyphs" >4</text>
<line x1="479" y1="253.4" x2="659" y2="253.4" stroke="#cbbfb5" stroke-width="0.8" stroke-dasharray="1.5,2"/>
<text x="666" y="257.4" font-size="11" fill="#8a8a8a" text-anchor="start" font-weight="normal" textLength="6" lengthAdjust="spacingAndGlyphs" >3</text>
<line x1="479" y1="278.8" x2="659" y2="278.8" stroke="#cbbfb5" stroke-width="0.8" stroke-dasharray="1.5,2"/>
<text x="666" y="282.8" font-size="11" fill="#8a8a8a" text-anchor="start" font-weight="normal" textLength="6" lengthAdjust="spacingAndGlyphs" >2</text>
<line x1="660.5" y1="100" x2="660.5" y2="280" stroke="#222" stroke-width="2"/>
<line x1="478" y1="279.7" x2="661" y2="279.7" stroke="#222" stroke-width="2"/>
<text x="0" y="0" font-size="11" fill="#9a9a9a" transform="translate(689.5,190.7) rotate(-90)" text-anchor="middle" textLength="21" lengthAdjust="spacingAndGlyphs">USD</text>
<text x="0" y="0" font-size="11" fill="#222" font-weight="bold" transform="translate(531.3,85.5) rotate(-51)" text-anchor="middle" textLength="32" lengthAdjust="spacingAndGlyphs">Jan '23</text>
<text x="0" y="0" font-size="11" fill="#222" font-weight="bold" transform="translate(582.7,85.5) rotate(-51)" text-anchor="middle" textLength="32" lengthAdjust="spacingAndGlyphs">Jul '23</text>
<text x="0" y="0" font-size="11" fill="#222" font-weight="bold" transform="translate(638.6,85.5) rotate(-51)" text-anchor="middle" textLength="32" lengthAdjust="spacingAndGlyphs">Jan '24</text>
<polyline points="479,115.9 490,115.9 493,135.5 512.7,135.5 518,156.8 523.4,151.5 534,142.6 544.8,140.8 548.3,160.4 575,164 576.8,155 598.2,153.3 601.8,180 630.3,181.8 632,199.6 644.5,199.6" fill="none" stroke="#3ee83e" stroke-width="2.6"/>
<polyline points="479,131.2 488,131.2 491.4,140.8 512.7,137 518,153.3 546.6,153.3 549,172.9 600,174.6 602.5,192.4 630.3,203 632,228 644.5,228" fill="none" stroke="#22aa22" stroke-width="2.6"/>
<polyline points="479,158.6 485,158.6 488,161 492,158 512.7,158.6 518,165 521,178 523.4,190.7 546.6,194.2 550,206.7 575,210 576.8,216.7 600,219 602.5,237 630.3,244 631,259.4 644.5,259.4" fill="none" stroke="#2a3a2a" stroke-width="2.6"/>
<text x="543.8" y="241.2" font-size="15" fill="#b5865a" text-anchor="middle" font-weight="normal" textLength="94.4" lengthAdjust="spacingAndGlyphs" >Tendencia bajista</text>
<text x="543.5" y="259" font-size="15" fill="#b5865a" text-anchor="middle" font-weight="normal" textLength="120" lengthAdjust="spacingAndGlyphs" >revisión estimaciones</text>
<text x="543" y="275.5" font-size="15" fill="#b5865a" text-anchor="middle" font-weight="normal" textLength="92.6" lengthAdjust="spacingAndGlyphs" >BPA 2024- 2026</text>
<line x1="516.3" y1="297.5" x2="528.8" y2="297.5" stroke="#1f3d1f" stroke-width="2"/>
<text x="532.3" y="301.5" font-size="11.5" fill="#333" text-anchor="start" font-weight="normal" textLength="43.8" lengthAdjust="spacingAndGlyphs" >EPS 2024</text>
<line x1="596.4" y1="297.5" x2="608" y2="297.5" stroke="#2aa02a" stroke-width="2"/>
<text x="611.4" y="301.5" font-size="11.5" fill="#333" text-anchor="start" font-weight="normal" textLength="42" lengthAdjust="spacingAndGlyphs" >EPS 2025</text>
<line x1="516.3" y1="312.8" x2="528.8" y2="312.8" stroke="#44e044" stroke-width="2"/>
<text x="532.3" y="316.8" font-size="11.5" fill="#333" text-anchor="start" font-weight="normal" textLength="43.5" lengthAdjust="spacingAndGlyphs" >EPS 2026</text>
<path d="M245.6,107.4 C425.3,-39.4 673.2,-36.3 769.5,195" fill="none" stroke="#e0202a" stroke-width="2.2"/>
<polygon points="771.2,198.9 763.6,191.3 770.9,188.1" fill="#e0202a"/>
<path d="M324.3,210.8 C499.9,428 682.3,473.5 918,323.5" fill="none" stroke="#33dd33" stroke-width="2.6"/>
<polygon points="924.0,320.3 916.5,329.5 912.2,321.7" fill="#33dd33"/>
</svg></body></html>
